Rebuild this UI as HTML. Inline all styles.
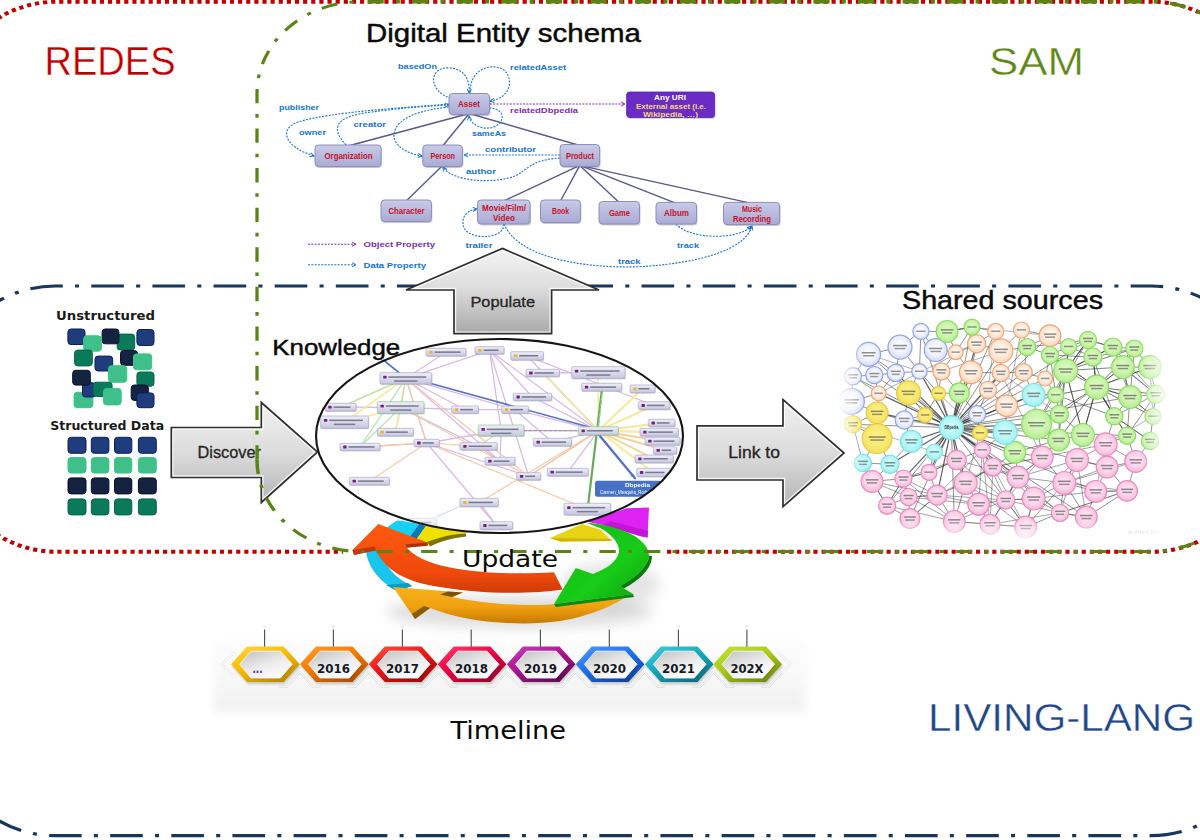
<!DOCTYPE html>
<html lang="en"><head><meta charset="utf-8"><title>REDES / SAM / LIVING-LANG overview</title>
<style>html,body{margin:0;padding:0;background:#ffffff;overflow:hidden}svg{display:block}</style></head>
<body>
<svg width="1200" height="840" viewBox="0 0 1200 840">
<rect width="1200" height="840" fill="#ffffff"/>
<g transform="scale(1.126 1)" fill="none">
<path d="M-40.85 133.40 V93.40 A91.7 91.7 0 0 1 50.85 1.7 H1021.98 A91.7 91.7 0 0 1 1113.68 93.40" stroke="#c00000" stroke-width="4" stroke-dasharray="3.7 3.52" stroke-dashoffset="2.10"/>
<path d="M-40.85 420.10 V460.10 A91.7 91.7 0 0 0 50.85 551.8 H1021.98 A91.7 91.7 0 0 0 1113.68 460.10" stroke="#c00000" stroke-width="4" stroke-dasharray="3.7 3.52" stroke-dashoffset="3.76"/>
<path d="M-42.63 417.60 V377.60 A91.6 91.6 0 0 1 48.97 286.0 H1022.08 A91.6 91.6 0 0 1 1113.68 377.60" stroke="#17375e" stroke-width="3.15" stroke-dasharray="29 10.85 3.6 10.85" stroke-dashoffset="1.38"/>
<path d="M-42.63 704.00 V744.00 A91.6 91.6 0 0 0 48.97 835.6 H1022.08 A91.6 91.6 0 0 0 1113.68 744.00" stroke="#17375e" stroke-width="3.1" stroke-dasharray="29 10.85 3.6 10.85" stroke-dashoffset="38.90"/>
</g>
<g id="labels">
<text x="44.5" y="75.0" font-family='"Liberation Sans", sans-serif' font-size="40.4" font-weight="normal" fill="#c00000" textLength="131.0" lengthAdjust="spacingAndGlyphs" stroke="#ffffff" stroke-width="0.4">REDES</text>
<text x="989.0" y="74.5" font-family='"Liberation Sans", sans-serif' font-size="39.2" font-weight="normal" fill="#5d8716" textLength="95.0" lengthAdjust="spacingAndGlyphs" stroke="#ffffff" stroke-width="0.4">SAM</text>
<text x="366.0" y="42.0" font-family='"Liberation Sans", sans-serif' font-size="25" font-weight="normal" fill="#0a0a0a" textLength="275.0" lengthAdjust="spacingAndGlyphs" stroke="#0a0a0a" stroke-width="0.45">Digital Entity schema</text>
<text x="902.0" y="309.0" font-family='"Liberation Sans", sans-serif' font-size="25" font-weight="normal" fill="#0a0a0a" textLength="201.0" lengthAdjust="spacingAndGlyphs" stroke="#0a0a0a" stroke-width="0.45">Shared sources</text>
<text x="272.3" y="355.0" font-family='"Liberation Sans", sans-serif' font-size="22.4" font-weight="normal" fill="#0a0a0a" textLength="127.9" lengthAdjust="spacingAndGlyphs" stroke="#0a0a0a" stroke-width="0.45">Knowledge</text>
<text x="928.0" y="730.5" font-family='"Liberation Sans", sans-serif' font-size="39.0" font-weight="normal" fill="#1f4788" textLength="267.0" lengthAdjust="spacingAndGlyphs" stroke="#ffffff" stroke-width="0.4">LIVING-LANG</text>
<text x="450.5" y="738.8" font-family='"DejaVu Sans", "Liberation Sans", sans-serif' font-size="24.7" font-weight="normal" fill="#0a0a0a" textLength="115.5" lengthAdjust="spacingAndGlyphs" >Timeline</text>
</g>
<g id="schema">
<defs>
<linearGradient id="ng" x1="0" y1="0" x2="0" y2="1"><stop offset="0" stop-color="#c9cbe8"/><stop offset="1" stop-color="#a9abd4"/></linearGradient>
<marker id="ab" viewBox="0 0 8 8" refX="7" refY="4" markerWidth="5" markerHeight="5" orient="auto"><path d="M1 1 L7 4 L1 7" fill="none" stroke="#1474cf" stroke-width="1.4"/></marker>
<marker id="ap" viewBox="0 0 8 8" refX="7" refY="4" markerWidth="5" markerHeight="5" orient="auto"><path d="M1 1 L7 4 L1 7" fill="none" stroke="#7e2cb6" stroke-width="1.4"/></marker>
</defs>
<g stroke="#58588e" stroke-width="1.4" fill="none">
<line x1="469.2" y1="113.5" x2="348.0" y2="146.0"/>
<line x1="469.2" y1="113.5" x2="442.6" y2="146.0"/>
<line x1="469.2" y1="113.5" x2="579.8" y2="145.5"/>
<line x1="442.6" y1="165.6" x2="406.2" y2="201.0"/>
<line x1="579.8" y1="165.4" x2="503.8" y2="201.0"/>
<line x1="579.8" y1="165.4" x2="560.5" y2="201.0"/>
<line x1="579.8" y1="165.4" x2="619.2" y2="202.5"/>
<line x1="579.8" y1="165.4" x2="676.2" y2="203.4"/>
<line x1="579.8" y1="165.4" x2="751.5" y2="203.4"/>
</g>
<g stroke="#1474cf" stroke-width="1.1" fill="none" stroke-dasharray="2 1.3">
<path d="M451 98 C428 92 428 66 450 68 C466 69 470 82 469 93" marker-end="url(#ab)"/>
<path d="M470 93 C470 70 488 64 500 68 C514 73 514 98 490 101" marker-end="url(#ab)"/>
<path d="M489 108 C505 108 506 122 494 127 C482 131 470 124 469 116" marker-end="url(#ab)"/>
<path d="M449 104 C400 108 330 112 298 122 C280 128 282 146 314 156" marker-end="url(#ab)"/>
<path d="M346 145 C330 128 335 116 372 112 C400 108 430 106 449 105" marker-end="url(#ab)"/>
<path d="M449 107 C420 110 396 118 394 134 C393 146 408 154 422 156" marker-end="url(#ab)"/>
<path d="M560 155 H464" marker-end="url(#ab)"/>
<path d="M560 158 C530 160 528 170 515 176 C495 184 452 182 443 167" marker-end="url(#ab)"/>
<path d="M504 224 C504 240 470 240 464 228 C460 216 468 210 477 209" marker-end="url(#ab)"/>
<path d="M676 224 C690 240 740 240 751 226" marker-end="url(#ab)"/>
<path d="M504 224 C520 262 600 270 650 266 C700 262 745 250 752 226" marker-end="url(#ab)"/>
</g>
<path d="M490 104 H625" stroke="#7e2cb6" stroke-width="1.1" fill="none" stroke-dasharray="2 1.3" marker-end="url(#ap)"/>
<path d="M308 244.2 H356" stroke="#7e2cb6" stroke-width="1.1" fill="none" stroke-dasharray="2 1.3" marker-end="url(#ap)"/>
<path d="M308 264.7 H356" stroke="#1474cf" stroke-width="1.1" fill="none" stroke-dasharray="2 1.3" marker-end="url(#ab)"/>
<rect x="450.0" y="95.0" width="40.5" height="21.0" rx="3.5" fill="#6a6a90" opacity="0.35"/>
<rect x="449.0" y="93.5" width="40.5" height="21.0" rx="3.5" fill="url(#ng)" stroke="#8c8ebc" stroke-width="1"/>
<rect x="316.0" y="146.5" width="66.0" height="21.6" rx="3.5" fill="#6a6a90" opacity="0.35"/>
<rect x="315.0" y="145.0" width="66.0" height="21.6" rx="3.5" fill="url(#ng)" stroke="#8c8ebc" stroke-width="1"/>
<rect x="423.8" y="146.5" width="39.6" height="21.6" rx="3.5" fill="#6a6a90" opacity="0.35"/>
<rect x="422.8" y="145.0" width="39.6" height="21.6" rx="3.5" fill="url(#ng)" stroke="#8c8ebc" stroke-width="1"/>
<rect x="561.0" y="146.0" width="39.6" height="21.9" rx="3.5" fill="#6a6a90" opacity="0.35"/>
<rect x="560.0" y="144.5" width="39.6" height="21.9" rx="3.5" fill="url(#ng)" stroke="#8c8ebc" stroke-width="1"/>
<rect x="382.0" y="201.5" width="50.4" height="21.6" rx="3.5" fill="#6a6a90" opacity="0.35"/>
<rect x="381.0" y="200.0" width="50.4" height="21.6" rx="3.5" fill="url(#ng)" stroke="#8c8ebc" stroke-width="1"/>
<rect x="478.5" y="201.5" width="52.5" height="24.0" rx="3.5" fill="#6a6a90" opacity="0.35"/>
<rect x="477.5" y="200.0" width="52.5" height="24.0" rx="3.5" fill="url(#ng)" stroke="#8c8ebc" stroke-width="1"/>
<rect x="541.5" y="201.5" width="39.9" height="22.5" rx="3.5" fill="#6a6a90" opacity="0.35"/>
<rect x="540.5" y="200.0" width="39.9" height="22.5" rx="3.5" fill="url(#ng)" stroke="#8c8ebc" stroke-width="1"/>
<rect x="600.0" y="203.0" width="40.5" height="22.5" rx="3.5" fill="#6a6a90" opacity="0.35"/>
<rect x="599.0" y="201.5" width="40.5" height="22.5" rx="3.5" fill="url(#ng)" stroke="#8c8ebc" stroke-width="1"/>
<rect x="657.0" y="203.9" width="40.5" height="21.6" rx="3.5" fill="#6a6a90" opacity="0.35"/>
<rect x="656.0" y="202.4" width="40.5" height="21.6" rx="3.5" fill="url(#ng)" stroke="#8c8ebc" stroke-width="1"/>
<rect x="724.5" y="203.9" width="56.1" height="22.2" rx="3.5" fill="#6a6a90" opacity="0.35"/>
<rect x="723.5" y="202.4" width="56.1" height="22.2" rx="3.5" fill="url(#ng)" stroke="#8c8ebc" stroke-width="1"/>
<text x="458.0" y="107.0" font-family='"Liberation Sans", sans-serif' font-size="8.2" font-weight="bold" fill="#c8102a" textLength="22.0" lengthAdjust="spacingAndGlyphs" >Asset</text>
<text x="324.5" y="158.8" font-family='"Liberation Sans", sans-serif' font-size="8.2" font-weight="bold" fill="#c8102a" textLength="48.0" lengthAdjust="spacingAndGlyphs" >Organization</text>
<text x="430.5" y="158.8" font-family='"Liberation Sans", sans-serif' font-size="8.2" font-weight="bold" fill="#c8102a" textLength="24.5" lengthAdjust="spacingAndGlyphs" >Person</text>
<text x="566.0" y="158.5" font-family='"Liberation Sans", sans-serif' font-size="8.2" font-weight="bold" fill="#c8102a" textLength="28.0" lengthAdjust="spacingAndGlyphs" >Product</text>
<text x="388.5" y="213.8" font-family='"Liberation Sans", sans-serif' font-size="8.2" font-weight="bold" fill="#c8102a" textLength="36.0" lengthAdjust="spacingAndGlyphs" >Character</text>
<text x="482.0" y="210.5" font-family='"Liberation Sans", sans-serif' font-size="8.2" font-weight="bold" fill="#c8102a" textLength="44.0" lengthAdjust="spacingAndGlyphs" >Movie/Film/</text>
<text x="493.0" y="220.5" font-family='"Liberation Sans", sans-serif' font-size="8.2" font-weight="bold" fill="#c8102a" textLength="22.0" lengthAdjust="spacingAndGlyphs" >Video</text>
<text x="552.0" y="214.3" font-family='"Liberation Sans", sans-serif' font-size="8.2" font-weight="bold" fill="#c8102a" textLength="17.0" lengthAdjust="spacingAndGlyphs" >Book</text>
<text x="609.0" y="215.8" font-family='"Liberation Sans", sans-serif' font-size="8.2" font-weight="bold" fill="#c8102a" textLength="21.0" lengthAdjust="spacingAndGlyphs" >Game</text>
<text x="664.0" y="216.3" font-family='"Liberation Sans", sans-serif' font-size="8.2" font-weight="bold" fill="#c8102a" textLength="25.0" lengthAdjust="spacingAndGlyphs" >Album</text>
<text x="742.0" y="211.8" font-family='"Liberation Sans", sans-serif' font-size="8.2" font-weight="bold" fill="#c8102a" textLength="20.0" lengthAdjust="spacingAndGlyphs" >Music</text>
<text x="733.0" y="221.5" font-family='"Liberation Sans", sans-serif' font-size="8.2" font-weight="bold" fill="#c8102a" textLength="38.0" lengthAdjust="spacingAndGlyphs" >Recording</text>
<rect x="627.6" y="93.5" width="88" height="25.5" rx="3" fill="#7a7a7a" opacity="0.3"/>
<rect x="626.6" y="92" width="88" height="25.5" rx="3" fill="#6a2cc4" stroke="#5a20b0" stroke-width="0.8"/>
<text x="654.0" y="100.3" font-family='"Liberation Sans", sans-serif' font-size="7.6" font-weight="bold" fill="#ffffff" textLength="32.0" lengthAdjust="spacingAndGlyphs" >Any URI</text>
<text x="636.0" y="108.8" font-family='"Liberation Sans", sans-serif' font-size="7.6" font-weight="bold" fill="#f7d774" textLength="70.0" lengthAdjust="spacingAndGlyphs" >External asset (i.e.</text>
<text x="643.0" y="117.0" font-family='"Liberation Sans", sans-serif' font-size="7.6" font-weight="bold" fill="#f7d774" textLength="55.0" lengthAdjust="spacingAndGlyphs" >Wikipedia, …)</text>
<text x="398.0" y="69.3" font-family='"Liberation Sans", sans-serif' font-size="7.6" font-weight="bold" fill="#1474cf" textLength="39.0" lengthAdjust="spacingAndGlyphs" >basedOn</text>
<text x="510.0" y="70.3" font-family='"Liberation Sans", sans-serif' font-size="7.6" font-weight="bold" fill="#1474cf" textLength="56.0" lengthAdjust="spacingAndGlyphs" >relatedAsset</text>
<text x="279.0" y="109.5" font-family='"Liberation Sans", sans-serif' font-size="7.6" font-weight="bold" fill="#1474cf" textLength="40.0" lengthAdjust="spacingAndGlyphs" >publisher</text>
<text x="299.0" y="134.8" font-family='"Liberation Sans", sans-serif' font-size="7.6" font-weight="bold" fill="#1474cf" textLength="27.0" lengthAdjust="spacingAndGlyphs" >owner</text>
<text x="353.5" y="127.3" font-family='"Liberation Sans", sans-serif' font-size="7.6" font-weight="bold" fill="#1474cf" textLength="32.5" lengthAdjust="spacingAndGlyphs" >creator</text>
<text x="472.0" y="135.5" font-family='"Liberation Sans", sans-serif' font-size="7.6" font-weight="bold" fill="#1474cf" textLength="34.0" lengthAdjust="spacingAndGlyphs" >sameAs</text>
<text x="485.0" y="151.8" font-family='"Liberation Sans", sans-serif' font-size="7.6" font-weight="bold" fill="#1474cf" textLength="51.0" lengthAdjust="spacingAndGlyphs" >contributor</text>
<text x="466.0" y="173.5" font-family='"Liberation Sans", sans-serif' font-size="7.6" font-weight="bold" fill="#1474cf" textLength="30.0" lengthAdjust="spacingAndGlyphs" >author</text>
<text x="465.5" y="247.8" font-family='"Liberation Sans", sans-serif' font-size="7.6" font-weight="bold" fill="#1474cf" textLength="27.0" lengthAdjust="spacingAndGlyphs" >trailer</text>
<text x="677.0" y="247.8" font-family='"Liberation Sans", sans-serif' font-size="7.6" font-weight="bold" fill="#1474cf" textLength="22.0" lengthAdjust="spacingAndGlyphs" >track</text>
<text x="618.0" y="263.8" font-family='"Liberation Sans", sans-serif' font-size="7.6" font-weight="bold" fill="#1474cf" textLength="22.5" lengthAdjust="spacingAndGlyphs" >track</text>
<text x="510.0" y="112.8" font-family='"Liberation Sans", sans-serif' font-size="7.6" font-weight="bold" fill="#7e2cb6" textLength="68.0" lengthAdjust="spacingAndGlyphs" >relatedDbpedia</text>
<text x="363.5" y="246.8" font-family='"Liberation Sans", sans-serif' font-size="7.6" font-weight="bold" fill="#7e2cb6" textLength="71.5" lengthAdjust="spacingAndGlyphs" >Object Property</text>
<text x="363.5" y="267.8" font-family='"Liberation Sans", sans-serif' font-size="7.6" font-weight="bold" fill="#1474cf" textLength="62.5" lengthAdjust="spacingAndGlyphs" >Data Property</text>
</g>
<g id="data">
<rect x="67.9" y="329.0" width="17.1" height="15.5" rx="3.1" fill="#1f3d7c" stroke="#0c1f62" stroke-width="1"/>
<rect x="136.9" y="329.5" width="17.1" height="16.0" rx="3.1" fill="#1f3d7c" stroke="#0c1f62" stroke-width="1"/>
<rect x="117.1" y="334.1" width="17.6" height="15.9" rx="3.1" fill="#0a7a5a" stroke="#06664a" stroke-width="1"/>
<rect x="102.1" y="329.0" width="16.8" height="14.8" rx="3.1" fill="#14233f" stroke="#0a1030" stroke-width="1"/>
<rect x="83.7" y="335.8" width="17.7" height="15.4" rx="3.1" fill="#3fc08a" stroke="#33c886" stroke-width="1"/>
<rect x="120.5" y="350.5" width="17.0" height="14.8" rx="3.1" fill="#14233f" stroke="#0a1030" stroke-width="1"/>
<rect x="74.6" y="350.1" width="17.7" height="15.8" rx="3.1" fill="#0a7a5a" stroke="#06664a" stroke-width="1"/>
<rect x="95.0" y="356.1" width="17.7" height="14.9" rx="3.1" fill="#1f3d7c" stroke="#0c1f62" stroke-width="1"/>
<rect x="133.5" y="353.9" width="18.2" height="15.9" rx="3.1" fill="#3fc08a" stroke="#33c886" stroke-width="1"/>
<rect x="108.5" y="365.7" width="18.3" height="16.6" rx="3.1" fill="#3fc08a" stroke="#33c886" stroke-width="1"/>
<rect x="136.9" y="372.0" width="17.1" height="14.2" rx="3.1" fill="#0a7a5a" stroke="#06664a" stroke-width="1"/>
<rect x="74.1" y="392.3" width="18.8" height="15.4" rx="3.1" fill="#3fc08a" stroke="#33c886" stroke-width="1"/>
<rect x="82.5" y="382.7" width="13.0" height="14.3" rx="3.1" fill="#1f3d7c" stroke="#0c1f62" stroke-width="1"/>
<rect x="72.7" y="370.3" width="17.6" height="14.8" rx="3.1" fill="#14233f" stroke="#0a1030" stroke-width="1"/>
<rect x="93.3" y="382.2" width="18.8" height="14.3" rx="3.1" fill="#0a7a5a" stroke="#06664a" stroke-width="1"/>
<rect x="103.5" y="388.4" width="17.7" height="16.5" rx="3.1" fill="#3fc08a" stroke="#33c886" stroke-width="1"/>
<rect x="131.2" y="385.0" width="17.1" height="15.4" rx="3.1" fill="#14233f" stroke="#0a1030" stroke-width="1"/>
<rect x="136.9" y="392.9" width="17.1" height="14.8" rx="3.1" fill="#1f3d7c" stroke="#0c1f62" stroke-width="1"/>
<rect x="68.0" y="437.3" width="18.0" height="16.0" rx="3.1" fill="#1f3d7c" stroke="#0c1f62" stroke-width="1"/>
<rect x="91.3" y="437.3" width="17.6" height="16.0" rx="3.1" fill="#1f3d7c" stroke="#0c1f62" stroke-width="1"/>
<rect x="114.5" y="437.3" width="17.3" height="16.0" rx="3.1" fill="#1f3d7c" stroke="#0c1f62" stroke-width="1"/>
<rect x="138.4" y="437.3" width="17.9" height="16.0" rx="3.1" fill="#1f3d7c" stroke="#0c1f62" stroke-width="1"/>
<rect x="68.0" y="457.6" width="18.0" height="15.4" rx="3.1" fill="#3fc08a" stroke="#33c886" stroke-width="1"/>
<rect x="91.3" y="457.6" width="17.6" height="15.4" rx="3.1" fill="#3fc08a" stroke="#33c886" stroke-width="1"/>
<rect x="114.5" y="457.6" width="17.3" height="15.4" rx="3.1" fill="#3fc08a" stroke="#33c886" stroke-width="1"/>
<rect x="138.4" y="457.6" width="17.9" height="15.4" rx="3.1" fill="#3fc08a" stroke="#33c886" stroke-width="1"/>
<rect x="68.0" y="477.9" width="18.0" height="16.0" rx="3.1" fill="#14233f" stroke="#0a1030" stroke-width="1"/>
<rect x="91.3" y="477.9" width="17.6" height="16.0" rx="3.1" fill="#14233f" stroke="#0a1030" stroke-width="1"/>
<rect x="114.5" y="477.9" width="17.3" height="16.0" rx="3.1" fill="#14233f" stroke="#0a1030" stroke-width="1"/>
<rect x="138.4" y="477.9" width="17.9" height="16.0" rx="3.1" fill="#14233f" stroke="#0a1030" stroke-width="1"/>
<rect x="68.0" y="498.9" width="18.0" height="16.0" rx="3.1" fill="#0a7a5a" stroke="#06664a" stroke-width="1"/>
<rect x="91.3" y="498.9" width="17.6" height="16.0" rx="3.1" fill="#0a7a5a" stroke="#06664a" stroke-width="1"/>
<rect x="114.5" y="498.9" width="17.3" height="16.0" rx="3.1" fill="#0a7a5a" stroke="#06664a" stroke-width="1"/>
<rect x="138.4" y="498.9" width="17.9" height="16.0" rx="3.1" fill="#0a7a5a" stroke="#06664a" stroke-width="1"/>
<text x="56.0" y="320.0" font-family='"DejaVu Sans", "Liberation Sans", sans-serif' font-size="12.6" font-weight="bold" fill="#1a1a1a" textLength="99.0" lengthAdjust="spacingAndGlyphs" >Unstructured</text>
<text x="50.2" y="429.6" font-family='"DejaVu Sans", "Liberation Sans", sans-serif' font-size="12.4" font-weight="bold" fill="#1a1a1a" textLength="114.0" lengthAdjust="spacingAndGlyphs" >Structured Data</text>
</g>
<g id="cloud" filter="url(#soft)">
<defs><filter id="soft" x="-2%" y="-2%" width="104%" height="104%"><feGaussianBlur stdDeviation="0.55"/></filter><radialGradient id="cgb" cx="0.5" cy="0.45" r="0.6"><stop offset="0" stop-color="#ffffff"/><stop offset="0.55" stop-color="#eef1fd"/><stop offset="1" stop-color="#ccd6f7"/></radialGradient><radialGradient id="cgo" cx="0.5" cy="0.45" r="0.6"><stop offset="0" stop-color="#fffaf5"/><stop offset="0.55" stop-color="#fde9d8"/><stop offset="1" stop-color="#f9cfae"/></radialGradient><radialGradient id="cgg" cx="0.5" cy="0.45" r="0.6"><stop offset="0" stop-color="#e0f9cc"/><stop offset="0.55" stop-color="#ccf4ac"/><stop offset="1" stop-color="#aee98a"/></radialGradient><radialGradient id="cgy" cx="0.5" cy="0.45" r="0.6"><stop offset="0" stop-color="#fbf090"/><stop offset="0.55" stop-color="#f9e974"/><stop offset="1" stop-color="#f2de54"/></radialGradient><radialGradient id="cgc" cx="0.5" cy="0.45" r="0.6"><stop offset="0" stop-color="#d4fbfb"/><stop offset="0.55" stop-color="#b8f6f6"/><stop offset="1" stop-color="#98eeee"/></radialGradient><radialGradient id="cgp" cx="0.5" cy="0.45" r="0.6"><stop offset="0" stop-color="#fee8f4"/><stop offset="0.55" stop-color="#fcd2e8"/><stop offset="1" stop-color="#f7b0d6"/></radialGradient></defs>
<defs><linearGradient id="cfr" x1="0" y1="0" x2="1" y2="0"><stop offset="0" stop-color="#fff" stop-opacity="0"/><stop offset="1" stop-color="#fff" stop-opacity="1"/></linearGradient>
<linearGradient id="cfb" x1="0" y1="0" x2="0" y2="1"><stop offset="0" stop-color="#fff" stop-opacity="0"/><stop offset="1" stop-color="#fff" stop-opacity="1"/></linearGradient>
<linearGradient id="cfl" x1="1" y1="0" x2="0" y2="0"><stop offset="0" stop-color="#fff" stop-opacity="0"/><stop offset="1" stop-color="#fff" stop-opacity="1"/></linearGradient></defs>
<g stroke="#3a3a3a" fill="none">
<line x1="868.6" y1="354.3" x2="951.4" y2="427.7" stroke-width="0.7" stroke-opacity="0.8"/>
<line x1="868.6" y1="354.3" x2="874.3" y2="375.1" stroke-width="0.7" stroke-opacity="0.8"/>
<line x1="868.6" y1="354.3" x2="852.9" y2="376.3" stroke-width="0.7" stroke-opacity="0.8"/>
<line x1="868.6" y1="354.3" x2="900.0" y2="347.1" stroke-width="0.7" stroke-opacity="0.8"/>
<line x1="868.6" y1="354.3" x2="895.7" y2="372.9" stroke-width="0.7" stroke-opacity="0.8"/>
<line x1="868.6" y1="354.3" x2="919.4" y2="371.4" stroke-width="0.5" stroke-opacity="0.8"/>
<line x1="900.0" y1="347.1" x2="895.7" y2="372.9" stroke-width="0.7" stroke-opacity="0.8"/>
<line x1="900.0" y1="347.1" x2="920.9" y2="331.4" stroke-width="0.7" stroke-opacity="0.8"/>
<line x1="900.0" y1="347.1" x2="919.4" y2="371.4" stroke-width="0.7" stroke-opacity="0.8"/>
<line x1="920.9" y1="331.4" x2="951.4" y2="427.7" stroke-width="0.7" stroke-opacity="0.8"/>
<line x1="920.9" y1="331.4" x2="947.1" y2="331.4" stroke-width="0.7" stroke-opacity="0.8"/>
<line x1="920.9" y1="331.4" x2="919.4" y2="371.4" stroke-width="0.7" stroke-opacity="0.8"/>
<line x1="935.7" y1="350.0" x2="955.7" y2="352.3" stroke-width="0.7" stroke-opacity="0.8"/>
<line x1="935.7" y1="350.0" x2="947.1" y2="331.4" stroke-width="0.7" stroke-opacity="0.8"/>
<line x1="935.7" y1="350.0" x2="920.9" y2="331.4" stroke-width="0.7" stroke-opacity="0.8"/>
<line x1="852.9" y1="376.3" x2="951.4" y2="427.7" stroke-width="0.7" stroke-opacity="0.8"/>
<line x1="852.9" y1="376.3" x2="874.3" y2="375.1" stroke-width="0.7" stroke-opacity="0.8"/>
<line x1="852.9" y1="376.3" x2="851.4" y2="401.4" stroke-width="0.7" stroke-opacity="0.8"/>
<line x1="852.9" y1="376.3" x2="878.6" y2="393.4" stroke-width="0.7" stroke-opacity="0.8"/>
<line x1="874.3" y1="375.1" x2="951.4" y2="427.7" stroke-width="0.7" stroke-opacity="0.8"/>
<line x1="874.3" y1="375.1" x2="878.6" y2="393.4" stroke-width="0.7" stroke-opacity="0.8"/>
<line x1="874.3" y1="375.1" x2="895.7" y2="372.9" stroke-width="0.7" stroke-opacity="0.8"/>
<line x1="895.7" y1="372.9" x2="951.4" y2="427.7" stroke-width="1.2" stroke-opacity="0.8"/>
<line x1="895.7" y1="372.9" x2="919.4" y2="371.4" stroke-width="0.7" stroke-opacity="0.8"/>
<line x1="895.7" y1="372.9" x2="908.6" y2="392.9" stroke-width="0.7" stroke-opacity="0.8"/>
<line x1="919.4" y1="371.4" x2="951.4" y2="427.7" stroke-width="1.2" stroke-opacity="0.8"/>
<line x1="919.4" y1="371.4" x2="941.4" y2="371.4" stroke-width="0.7" stroke-opacity="0.8"/>
<line x1="919.4" y1="371.4" x2="908.6" y2="392.9" stroke-width="0.7" stroke-opacity="0.8"/>
<line x1="851.4" y1="401.4" x2="852.9" y2="424.3" stroke-width="0.7" stroke-opacity="0.8"/>
<line x1="851.4" y1="401.4" x2="877.1" y2="412.9" stroke-width="0.7" stroke-opacity="0.8"/>
<line x1="851.4" y1="401.4" x2="878.6" y2="393.4" stroke-width="0.7" stroke-opacity="0.8"/>
<line x1="904.3" y1="420.0" x2="925.1" y2="415.1" stroke-width="0.7" stroke-opacity="0.8"/>
<line x1="904.3" y1="420.0" x2="911.4" y2="441.4" stroke-width="0.7" stroke-opacity="0.8"/>
<line x1="904.3" y1="420.0" x2="877.1" y2="412.9" stroke-width="0.7" stroke-opacity="0.8"/>
<line x1="977.1" y1="414.3" x2="951.4" y2="427.7" stroke-width="1.2" stroke-opacity="0.8"/>
<line x1="977.1" y1="414.3" x2="980.0" y2="432.9" stroke-width="0.7" stroke-opacity="0.8"/>
<line x1="977.1" y1="414.3" x2="988.0" y2="390.0" stroke-width="0.7" stroke-opacity="0.8"/>
<line x1="977.1" y1="414.3" x2="959.4" y2="392.9" stroke-width="0.7" stroke-opacity="0.8"/>
<line x1="977.1" y1="414.3" x2="951.4" y2="427.7" stroke-width="0.7" stroke-opacity="0.8"/>
<line x1="955.7" y1="352.3" x2="947.1" y2="331.4" stroke-width="0.7" stroke-opacity="0.8"/>
<line x1="955.7" y1="352.3" x2="976.6" y2="343.7" stroke-width="0.7" stroke-opacity="0.8"/>
<line x1="955.7" y1="352.3" x2="941.4" y2="371.4" stroke-width="0.7" stroke-opacity="0.8"/>
<line x1="976.6" y1="343.7" x2="951.4" y2="427.7" stroke-width="1.2" stroke-opacity="0.8"/>
<line x1="976.6" y1="343.7" x2="1000.9" y2="350.9" stroke-width="0.7" stroke-opacity="0.8"/>
<line x1="995.7" y1="331.4" x2="951.4" y2="427.7" stroke-width="0.7" stroke-opacity="0.8"/>
<line x1="995.7" y1="331.4" x2="1000.9" y2="350.9" stroke-width="0.7" stroke-opacity="0.8"/>
<line x1="995.7" y1="331.4" x2="976.6" y2="343.7" stroke-width="0.7" stroke-opacity="0.8"/>
<line x1="1021.4" y1="330.0" x2="1027.1" y2="347.1" stroke-width="0.7" stroke-opacity="0.8"/>
<line x1="1021.4" y1="330.0" x2="1050.0" y2="335.7" stroke-width="0.7" stroke-opacity="0.8"/>
<line x1="1021.4" y1="330.0" x2="1000.9" y2="350.9" stroke-width="0.7" stroke-opacity="0.8"/>
<line x1="1050.0" y1="335.7" x2="951.4" y2="427.7" stroke-width="0.7" stroke-opacity="0.8"/>
<line x1="1050.0" y1="335.7" x2="1050.0" y2="355.1" stroke-width="0.7" stroke-opacity="0.8"/>
<line x1="1050.0" y1="335.7" x2="1068.6" y2="346.6" stroke-width="0.7" stroke-opacity="0.8"/>
<line x1="1050.0" y1="335.7" x2="1027.1" y2="347.1" stroke-width="0.7" stroke-opacity="0.8"/>
<line x1="1000.9" y1="350.9" x2="951.4" y2="427.7" stroke-width="0.7" stroke-opacity="0.8"/>
<line x1="1000.9" y1="350.9" x2="1000.9" y2="372.9" stroke-width="0.7" stroke-opacity="0.8"/>
<line x1="1000.9" y1="350.9" x2="1027.1" y2="347.1" stroke-width="0.7" stroke-opacity="0.8"/>
<line x1="1000.9" y1="350.9" x2="941.4" y2="371.4" stroke-width="0.5" stroke-opacity="0.8"/>
<line x1="941.4" y1="371.4" x2="938.6" y2="393.4" stroke-width="0.7" stroke-opacity="0.8"/>
<line x1="970.9" y1="372.3" x2="951.4" y2="427.7" stroke-width="1.2" stroke-opacity="0.8"/>
<line x1="970.9" y1="372.3" x2="959.4" y2="392.9" stroke-width="0.7" stroke-opacity="0.8"/>
<line x1="970.9" y1="372.3" x2="988.0" y2="390.0" stroke-width="0.7" stroke-opacity="0.8"/>
<line x1="970.9" y1="372.3" x2="955.7" y2="352.3" stroke-width="0.7" stroke-opacity="0.8"/>
<line x1="970.9" y1="372.3" x2="976.6" y2="343.7" stroke-width="0.7" stroke-opacity="0.8"/>
<line x1="1000.9" y1="372.9" x2="951.4" y2="427.7" stroke-width="1.2" stroke-opacity="0.8"/>
<line x1="1000.9" y1="372.9" x2="1023.7" y2="372.3" stroke-width="0.7" stroke-opacity="0.8"/>
<line x1="1000.9" y1="372.9" x2="970.9" y2="372.3" stroke-width="0.7" stroke-opacity="0.8"/>
<line x1="1000.9" y1="372.9" x2="1042.3" y2="457.1" stroke-width="0.5" stroke-opacity="0.8"/>
<line x1="1023.7" y1="372.3" x2="951.4" y2="427.7" stroke-width="0.7" stroke-opacity="0.8"/>
<line x1="1023.7" y1="372.3" x2="1045.1" y2="378.6" stroke-width="0.7" stroke-opacity="0.8"/>
<line x1="1023.7" y1="372.3" x2="1027.1" y2="347.1" stroke-width="0.7" stroke-opacity="0.8"/>
<line x1="1045.1" y1="378.6" x2="951.4" y2="427.7" stroke-width="0.7" stroke-opacity="0.8"/>
<line x1="1045.1" y1="378.6" x2="1055.7" y2="394.9" stroke-width="0.7" stroke-opacity="0.8"/>
<line x1="1045.1" y1="378.6" x2="1033.7" y2="394.9" stroke-width="0.7" stroke-opacity="0.8"/>
<line x1="988.0" y1="390.0" x2="1000.9" y2="372.9" stroke-width="0.7" stroke-opacity="0.8"/>
<line x1="988.0" y1="390.0" x2="1006.6" y2="405.7" stroke-width="0.7" stroke-opacity="0.8"/>
<line x1="988.0" y1="390.0" x2="995.7" y2="331.4" stroke-width="0.5" stroke-opacity="0.8"/>
<line x1="1006.6" y1="405.7" x2="951.4" y2="427.7" stroke-width="1.2" stroke-opacity="0.8"/>
<line x1="1006.6" y1="405.7" x2="1005.1" y2="432.3" stroke-width="0.7" stroke-opacity="0.8"/>
<line x1="1006.6" y1="405.7" x2="1033.7" y2="394.9" stroke-width="0.7" stroke-opacity="0.8"/>
<line x1="1006.6" y1="405.7" x2="1021.4" y2="330.0" stroke-width="0.5" stroke-opacity="0.8"/>
<line x1="878.6" y1="393.4" x2="951.4" y2="427.7" stroke-width="1.2" stroke-opacity="0.8"/>
<line x1="878.6" y1="393.4" x2="877.1" y2="412.9" stroke-width="0.7" stroke-opacity="0.8"/>
<line x1="878.6" y1="393.4" x2="895.7" y2="372.9" stroke-width="0.7" stroke-opacity="0.8"/>
<line x1="878.6" y1="393.4" x2="976.6" y2="343.7" stroke-width="0.5" stroke-opacity="0.8"/>
<line x1="947.1" y1="331.4" x2="972.0" y2="327.1" stroke-width="0.7" stroke-opacity="0.8"/>
<line x1="947.1" y1="331.4" x2="972.0" y2="327.1" stroke-width="0.5" stroke-opacity="0.8"/>
<line x1="972.0" y1="327.1" x2="951.4" y2="427.7" stroke-width="0.7" stroke-opacity="0.8"/>
<line x1="972.0" y1="327.1" x2="976.6" y2="343.7" stroke-width="0.7" stroke-opacity="0.8"/>
<line x1="972.0" y1="327.1" x2="995.7" y2="331.4" stroke-width="0.7" stroke-opacity="0.8"/>
<line x1="972.0" y1="327.1" x2="955.7" y2="352.3" stroke-width="0.7" stroke-opacity="0.8"/>
<line x1="972.0" y1="327.1" x2="1050.0" y2="335.7" stroke-width="0.5" stroke-opacity="0.8"/>
<line x1="1027.1" y1="347.1" x2="951.4" y2="427.7" stroke-width="0.7" stroke-opacity="0.8"/>
<line x1="1027.1" y1="347.1" x2="1050.0" y2="355.1" stroke-width="0.7" stroke-opacity="0.8"/>
<line x1="1050.0" y1="355.1" x2="1068.6" y2="346.6" stroke-width="0.7" stroke-opacity="0.8"/>
<line x1="1050.0" y1="355.1" x2="1065.7" y2="370.6" stroke-width="0.7" stroke-opacity="0.8"/>
<line x1="1050.0" y1="355.1" x2="1045.1" y2="378.6" stroke-width="0.7" stroke-opacity="0.8"/>
<line x1="1068.6" y1="346.6" x2="1088.0" y2="340.0" stroke-width="0.7" stroke-opacity="0.8"/>
<line x1="1068.6" y1="346.6" x2="1065.7" y2="370.6" stroke-width="0.7" stroke-opacity="0.8"/>
<line x1="1088.0" y1="340.0" x2="951.4" y2="427.7" stroke-width="0.7" stroke-opacity="0.8"/>
<line x1="1088.0" y1="340.0" x2="1092.9" y2="357.1" stroke-width="0.7" stroke-opacity="0.8"/>
<line x1="1088.0" y1="340.0" x2="1065.7" y2="370.6" stroke-width="0.7" stroke-opacity="0.8"/>
<line x1="1112.9" y1="347.1" x2="1134.3" y2="348.6" stroke-width="0.7" stroke-opacity="0.8"/>
<line x1="1112.9" y1="347.1" x2="1092.9" y2="357.1" stroke-width="0.7" stroke-opacity="0.8"/>
<line x1="1112.9" y1="347.1" x2="1122.9" y2="367.1" stroke-width="0.7" stroke-opacity="0.8"/>
<line x1="1112.9" y1="347.1" x2="1088.0" y2="340.0" stroke-width="0.7" stroke-opacity="0.8"/>
<line x1="1134.3" y1="348.6" x2="1122.9" y2="367.1" stroke-width="0.7" stroke-opacity="0.8"/>
<line x1="1134.3" y1="348.6" x2="1150.0" y2="367.1" stroke-width="0.7" stroke-opacity="0.8"/>
<line x1="1134.3" y1="348.6" x2="1092.9" y2="357.1" stroke-width="0.7" stroke-opacity="0.8"/>
<line x1="1092.9" y1="357.1" x2="1068.6" y2="346.6" stroke-width="0.7" stroke-opacity="0.8"/>
<line x1="1092.9" y1="357.1" x2="1096.6" y2="387.1" stroke-width="0.7" stroke-opacity="0.8"/>
<line x1="1122.9" y1="367.1" x2="1150.0" y2="367.1" stroke-width="0.7" stroke-opacity="0.8"/>
<line x1="1122.9" y1="367.1" x2="1130.0" y2="397.1" stroke-width="0.7" stroke-opacity="0.8"/>
<line x1="1150.0" y1="367.1" x2="1155.7" y2="394.3" stroke-width="0.7" stroke-opacity="0.8"/>
<line x1="1096.6" y1="387.1" x2="1122.9" y2="367.1" stroke-width="0.7" stroke-opacity="0.8"/>
<line x1="1096.6" y1="387.1" x2="1114.3" y2="416.3" stroke-width="0.7" stroke-opacity="0.8"/>
<line x1="1096.6" y1="387.1" x2="1130.0" y2="397.1" stroke-width="0.7" stroke-opacity="0.8"/>
<line x1="1055.7" y1="394.9" x2="951.4" y2="427.7" stroke-width="0.7" stroke-opacity="0.8"/>
<line x1="1055.7" y1="394.9" x2="1033.7" y2="394.9" stroke-width="0.7" stroke-opacity="0.8"/>
<line x1="1055.7" y1="394.9" x2="1065.7" y2="370.6" stroke-width="0.7" stroke-opacity="0.8"/>
<line x1="1130.0" y1="397.1" x2="951.4" y2="427.7" stroke-width="0.7" stroke-opacity="0.8"/>
<line x1="1130.0" y1="397.1" x2="1114.3" y2="416.3" stroke-width="0.7" stroke-opacity="0.8"/>
<line x1="1130.0" y1="397.1" x2="1152.9" y2="416.3" stroke-width="0.7" stroke-opacity="0.8"/>
<line x1="1155.7" y1="394.3" x2="1152.9" y2="416.3" stroke-width="0.7" stroke-opacity="0.8"/>
<line x1="1155.7" y1="394.3" x2="1130.0" y2="397.1" stroke-width="0.7" stroke-opacity="0.8"/>
<line x1="1155.7" y1="394.3" x2="1122.9" y2="367.1" stroke-width="0.7" stroke-opacity="0.8"/>
<line x1="1059.4" y1="414.3" x2="951.4" y2="427.7" stroke-width="0.7" stroke-opacity="0.8"/>
<line x1="1059.4" y1="414.3" x2="1055.7" y2="394.9" stroke-width="0.7" stroke-opacity="0.8"/>
<line x1="1059.4" y1="414.3" x2="1058.6" y2="440.0" stroke-width="0.7" stroke-opacity="0.8"/>
<line x1="1059.4" y1="414.3" x2="1082.9" y2="434.9" stroke-width="0.7" stroke-opacity="0.8"/>
<line x1="1059.4" y1="414.3" x2="1000.9" y2="372.9" stroke-width="0.5" stroke-opacity="0.8"/>
<line x1="1114.3" y1="416.3" x2="1127.1" y2="435.7" stroke-width="0.7" stroke-opacity="0.8"/>
<line x1="1114.3" y1="416.3" x2="1105.7" y2="444.3" stroke-width="0.7" stroke-opacity="0.8"/>
<line x1="1152.9" y1="416.3" x2="1150.0" y2="440.9" stroke-width="0.7" stroke-opacity="0.8"/>
<line x1="1152.9" y1="416.3" x2="1105.7" y2="444.3" stroke-width="0.5" stroke-opacity="0.8"/>
<line x1="1036.6" y1="424.3" x2="951.4" y2="427.7" stroke-width="1.2" stroke-opacity="0.8"/>
<line x1="1036.6" y1="424.3" x2="1059.4" y2="414.3" stroke-width="0.7" stroke-opacity="0.8"/>
<line x1="1036.6" y1="424.3" x2="1033.7" y2="394.9" stroke-width="0.7" stroke-opacity="0.8"/>
<line x1="1036.6" y1="424.3" x2="1005.1" y2="432.3" stroke-width="0.7" stroke-opacity="0.8"/>
<line x1="1082.9" y1="434.9" x2="1077.1" y2="460.0" stroke-width="0.7" stroke-opacity="0.8"/>
<line x1="1082.9" y1="434.9" x2="1096.6" y2="387.1" stroke-width="0.5" stroke-opacity="0.8"/>
<line x1="1058.6" y1="440.0" x2="951.4" y2="427.7" stroke-width="0.7" stroke-opacity="0.8"/>
<line x1="1058.6" y1="440.0" x2="1042.3" y2="457.1" stroke-width="0.7" stroke-opacity="0.8"/>
<line x1="1058.6" y1="440.0" x2="1082.9" y2="434.9" stroke-width="0.7" stroke-opacity="0.8"/>
<line x1="1058.6" y1="440.0" x2="1036.6" y2="424.3" stroke-width="0.7" stroke-opacity="0.8"/>
<line x1="1127.1" y1="435.7" x2="951.4" y2="427.7" stroke-width="0.7" stroke-opacity="0.8"/>
<line x1="1127.1" y1="435.7" x2="1105.7" y2="444.3" stroke-width="0.7" stroke-opacity="0.8"/>
<line x1="1127.1" y1="435.7" x2="1135.7" y2="461.4" stroke-width="0.7" stroke-opacity="0.8"/>
<line x1="1150.0" y1="440.9" x2="1114.3" y2="416.3" stroke-width="0.7" stroke-opacity="0.8"/>
<line x1="1014.9" y1="452.3" x2="951.4" y2="427.7" stroke-width="1.2" stroke-opacity="0.8"/>
<line x1="1014.9" y1="452.3" x2="1005.1" y2="432.3" stroke-width="0.7" stroke-opacity="0.8"/>
<line x1="1014.9" y1="452.3" x2="1018.0" y2="477.1" stroke-width="0.7" stroke-opacity="0.8"/>
<line x1="1014.9" y1="452.3" x2="992.9" y2="467.1" stroke-width="0.7" stroke-opacity="0.8"/>
<line x1="1014.9" y1="452.3" x2="1042.3" y2="457.1" stroke-width="0.7" stroke-opacity="0.8"/>
<line x1="1014.9" y1="452.3" x2="1005.1" y2="432.3" stroke-width="0.5" stroke-opacity="0.8"/>
<line x1="959.4" y1="392.9" x2="951.4" y2="427.7" stroke-width="1.2" stroke-opacity="0.8"/>
<line x1="959.4" y1="392.9" x2="938.6" y2="393.4" stroke-width="0.7" stroke-opacity="0.8"/>
<line x1="959.4" y1="392.9" x2="941.4" y2="371.4" stroke-width="0.7" stroke-opacity="0.8"/>
<line x1="908.6" y1="392.9" x2="951.4" y2="427.7" stroke-width="1.2" stroke-opacity="0.8"/>
<line x1="908.6" y1="392.9" x2="904.3" y2="420.0" stroke-width="0.7" stroke-opacity="0.8"/>
<line x1="908.6" y1="392.9" x2="925.1" y2="415.1" stroke-width="0.7" stroke-opacity="0.8"/>
<line x1="938.6" y1="393.4" x2="951.4" y2="427.7" stroke-width="1.2" stroke-opacity="0.8"/>
<line x1="938.6" y1="393.4" x2="925.1" y2="415.1" stroke-width="0.7" stroke-opacity="0.8"/>
<line x1="938.6" y1="393.4" x2="919.4" y2="371.4" stroke-width="0.7" stroke-opacity="0.8"/>
<line x1="938.6" y1="393.4" x2="980.0" y2="432.9" stroke-width="0.5" stroke-opacity="0.8"/>
<line x1="877.1" y1="412.9" x2="951.4" y2="427.7" stroke-width="1.2" stroke-opacity="0.8"/>
<line x1="877.1" y1="412.9" x2="877.1" y2="438.6" stroke-width="0.7" stroke-opacity="0.8"/>
<line x1="925.1" y1="415.1" x2="951.4" y2="427.7" stroke-width="0.7" stroke-opacity="0.8"/>
<line x1="852.9" y1="424.3" x2="951.4" y2="427.7" stroke-width="0.7" stroke-opacity="0.8"/>
<line x1="852.9" y1="424.3" x2="877.1" y2="412.9" stroke-width="0.7" stroke-opacity="0.8"/>
<line x1="852.9" y1="424.3" x2="877.1" y2="438.6" stroke-width="0.7" stroke-opacity="0.8"/>
<line x1="877.1" y1="438.6" x2="890.0" y2="464.3" stroke-width="0.7" stroke-opacity="0.8"/>
<line x1="980.0" y1="432.9" x2="1005.1" y2="432.3" stroke-width="0.7" stroke-opacity="0.8"/>
<line x1="980.0" y1="432.9" x2="951.4" y2="427.7" stroke-width="0.7" stroke-opacity="0.8"/>
<line x1="980.0" y1="432.9" x2="904.3" y2="420.0" stroke-width="0.5" stroke-opacity="0.8"/>
<line x1="1033.7" y1="394.9" x2="951.4" y2="427.7" stroke-width="1.2" stroke-opacity="0.8"/>
<line x1="1033.7" y1="394.9" x2="1023.7" y2="372.3" stroke-width="0.7" stroke-opacity="0.8"/>
<line x1="1033.7" y1="394.9" x2="1055.7" y2="394.9" stroke-width="0.5" stroke-opacity="0.8"/>
<line x1="951.4" y1="427.7" x2="934.3" y2="452.0" stroke-width="0.7" stroke-opacity="0.8"/>
<line x1="1005.1" y1="432.3" x2="951.4" y2="427.7" stroke-width="1.2" stroke-opacity="0.8"/>
<line x1="1005.1" y1="432.3" x2="982.3" y2="450.0" stroke-width="0.7" stroke-opacity="0.8"/>
<line x1="911.4" y1="441.4" x2="951.4" y2="427.7" stroke-width="1.2" stroke-opacity="0.8"/>
<line x1="911.4" y1="441.4" x2="890.0" y2="464.3" stroke-width="0.7" stroke-opacity="0.8"/>
<line x1="934.3" y1="452.0" x2="951.4" y2="427.7" stroke-width="1.2" stroke-opacity="0.8"/>
<line x1="934.3" y1="452.0" x2="929.1" y2="472.3" stroke-width="0.7" stroke-opacity="0.8"/>
<line x1="934.3" y1="452.0" x2="852.9" y2="424.3" stroke-width="0.5" stroke-opacity="0.8"/>
<line x1="862.9" y1="462.9" x2="872.0" y2="481.4" stroke-width="0.7" stroke-opacity="0.8"/>
<line x1="862.9" y1="462.9" x2="890.0" y2="464.3" stroke-width="0.7" stroke-opacity="0.8"/>
<line x1="862.9" y1="462.9" x2="877.1" y2="438.6" stroke-width="0.7" stroke-opacity="0.8"/>
<line x1="862.9" y1="462.9" x2="852.9" y2="424.3" stroke-width="0.7" stroke-opacity="0.8"/>
<line x1="890.0" y1="464.3" x2="951.4" y2="427.7" stroke-width="1.2" stroke-opacity="0.8"/>
<line x1="890.0" y1="464.3" x2="903.4" y2="478.6" stroke-width="0.7" stroke-opacity="0.8"/>
<line x1="890.0" y1="464.3" x2="872.0" y2="481.4" stroke-width="0.7" stroke-opacity="0.8"/>
<line x1="982.3" y1="450.0" x2="951.4" y2="427.7" stroke-width="1.2" stroke-opacity="0.8"/>
<line x1="982.3" y1="450.0" x2="992.9" y2="467.1" stroke-width="0.7" stroke-opacity="0.8"/>
<line x1="956.6" y1="460.0" x2="951.4" y2="427.7" stroke-width="1.2" stroke-opacity="0.8"/>
<line x1="956.6" y1="460.0" x2="934.3" y2="452.0" stroke-width="0.7" stroke-opacity="0.8"/>
<line x1="956.6" y1="460.0" x2="982.3" y2="450.0" stroke-width="0.7" stroke-opacity="0.8"/>
<line x1="956.6" y1="460.0" x2="929.1" y2="472.3" stroke-width="0.7" stroke-opacity="0.8"/>
<line x1="992.9" y1="467.1" x2="1018.0" y2="477.1" stroke-width="0.7" stroke-opacity="0.8"/>
<line x1="992.9" y1="467.1" x2="1042.3" y2="457.1" stroke-width="0.5" stroke-opacity="0.8"/>
<line x1="1042.3" y1="457.1" x2="1018.0" y2="477.1" stroke-width="0.7" stroke-opacity="0.8"/>
<line x1="1042.3" y1="457.1" x2="1036.6" y2="424.3" stroke-width="0.7" stroke-opacity="0.8"/>
<line x1="1077.1" y1="460.0" x2="1064.3" y2="482.9" stroke-width="0.7" stroke-opacity="0.8"/>
<line x1="1077.1" y1="460.0" x2="1107.1" y2="467.1" stroke-width="0.7" stroke-opacity="0.8"/>
<line x1="1105.7" y1="444.3" x2="1107.1" y2="467.1" stroke-width="0.7" stroke-opacity="0.8"/>
<line x1="1135.7" y1="461.4" x2="1150.0" y2="440.9" stroke-width="0.7" stroke-opacity="0.8"/>
<line x1="1135.7" y1="461.4" x2="1107.1" y2="467.1" stroke-width="0.7" stroke-opacity="0.8"/>
<line x1="1107.1" y1="467.1" x2="951.4" y2="427.7" stroke-width="0.7" stroke-opacity="0.8"/>
<line x1="1107.1" y1="467.1" x2="1095.7" y2="491.4" stroke-width="0.7" stroke-opacity="0.8"/>
<line x1="872.0" y1="481.4" x2="887.1" y2="505.7" stroke-width="0.7" stroke-opacity="0.8"/>
<line x1="872.0" y1="481.4" x2="903.4" y2="478.6" stroke-width="0.7" stroke-opacity="0.8"/>
<line x1="903.4" y1="478.6" x2="951.4" y2="427.7" stroke-width="1.2" stroke-opacity="0.8"/>
<line x1="903.4" y1="478.6" x2="908.6" y2="497.1" stroke-width="0.7" stroke-opacity="0.8"/>
<line x1="903.4" y1="478.6" x2="929.1" y2="472.3" stroke-width="0.7" stroke-opacity="0.8"/>
<line x1="929.1" y1="472.3" x2="951.4" y2="427.7" stroke-width="1.2" stroke-opacity="0.8"/>
<line x1="929.1" y1="472.3" x2="937.1" y2="495.1" stroke-width="0.7" stroke-opacity="0.8"/>
<line x1="965.7" y1="482.9" x2="951.4" y2="427.7" stroke-width="1.2" stroke-opacity="0.8"/>
<line x1="965.7" y1="482.9" x2="956.6" y2="460.0" stroke-width="0.7" stroke-opacity="0.8"/>
<line x1="965.7" y1="482.9" x2="978.6" y2="504.3" stroke-width="0.7" stroke-opacity="0.8"/>
<line x1="965.7" y1="482.9" x2="992.9" y2="467.1" stroke-width="0.7" stroke-opacity="0.8"/>
<line x1="965.7" y1="482.9" x2="980.0" y2="432.9" stroke-width="0.5" stroke-opacity="0.8"/>
<line x1="1018.0" y1="477.1" x2="951.4" y2="427.7" stroke-width="1.2" stroke-opacity="0.8"/>
<line x1="1018.0" y1="477.1" x2="1033.7" y2="498.6" stroke-width="0.7" stroke-opacity="0.8"/>
<line x1="1064.3" y1="482.9" x2="1060.0" y2="512.9" stroke-width="0.7" stroke-opacity="0.8"/>
<line x1="1064.3" y1="482.9" x2="1095.7" y2="491.4" stroke-width="0.7" stroke-opacity="0.8"/>
<line x1="1064.3" y1="482.9" x2="1042.3" y2="457.1" stroke-width="0.7" stroke-opacity="0.8"/>
<line x1="1095.7" y1="491.4" x2="951.4" y2="427.7" stroke-width="0.7" stroke-opacity="0.8"/>
<line x1="1095.7" y1="491.4" x2="1127.1" y2="490.9" stroke-width="0.7" stroke-opacity="0.8"/>
<line x1="1127.1" y1="490.9" x2="1135.7" y2="461.4" stroke-width="0.7" stroke-opacity="0.8"/>
<line x1="1127.1" y1="490.9" x2="1107.1" y2="467.1" stroke-width="0.7" stroke-opacity="0.8"/>
<line x1="1127.1" y1="490.9" x2="1086.3" y2="517.1" stroke-width="0.7" stroke-opacity="0.8"/>
<line x1="887.1" y1="505.7" x2="951.4" y2="427.7" stroke-width="0.7" stroke-opacity="0.8"/>
<line x1="887.1" y1="505.7" x2="908.6" y2="497.1" stroke-width="0.7" stroke-opacity="0.8"/>
<line x1="887.1" y1="505.7" x2="910.0" y2="518.6" stroke-width="0.7" stroke-opacity="0.8"/>
<line x1="887.1" y1="505.7" x2="903.4" y2="478.6" stroke-width="0.7" stroke-opacity="0.8"/>
<line x1="908.6" y1="497.1" x2="910.0" y2="518.6" stroke-width="0.7" stroke-opacity="0.8"/>
<line x1="908.6" y1="497.1" x2="937.1" y2="495.1" stroke-width="0.7" stroke-opacity="0.8"/>
<line x1="937.1" y1="495.1" x2="951.4" y2="427.7" stroke-width="1.2" stroke-opacity="0.8"/>
<line x1="937.1" y1="495.1" x2="965.7" y2="482.9" stroke-width="0.7" stroke-opacity="0.8"/>
<line x1="937.1" y1="495.1" x2="954.3" y2="521.4" stroke-width="0.7" stroke-opacity="0.8"/>
<line x1="978.6" y1="504.3" x2="990.0" y2="524.3" stroke-width="0.7" stroke-opacity="0.8"/>
<line x1="978.6" y1="504.3" x2="1005.7" y2="500.0" stroke-width="0.7" stroke-opacity="0.8"/>
<line x1="1005.7" y1="500.0" x2="951.4" y2="427.7" stroke-width="0.7" stroke-opacity="0.8"/>
<line x1="1005.7" y1="500.0" x2="1018.0" y2="477.1" stroke-width="0.7" stroke-opacity="0.8"/>
<line x1="1005.7" y1="500.0" x2="1033.7" y2="498.6" stroke-width="0.7" stroke-opacity="0.8"/>
<line x1="1005.7" y1="500.0" x2="990.0" y2="524.3" stroke-width="0.7" stroke-opacity="0.8"/>
<line x1="1033.7" y1="498.6" x2="951.4" y2="427.7" stroke-width="0.7" stroke-opacity="0.8"/>
<line x1="1033.7" y1="498.6" x2="1025.7" y2="527.1" stroke-width="0.7" stroke-opacity="0.8"/>
<line x1="1033.7" y1="498.6" x2="1060.0" y2="512.9" stroke-width="0.7" stroke-opacity="0.8"/>
<line x1="1060.0" y1="512.9" x2="951.4" y2="427.7" stroke-width="0.7" stroke-opacity="0.8"/>
<line x1="1060.0" y1="512.9" x2="1086.3" y2="517.1" stroke-width="0.7" stroke-opacity="0.8"/>
<line x1="1060.0" y1="512.9" x2="1025.7" y2="527.1" stroke-width="0.7" stroke-opacity="0.8"/>
<line x1="1060.0" y1="512.9" x2="1127.1" y2="490.9" stroke-width="0.5" stroke-opacity="0.8"/>
<line x1="1086.3" y1="517.1" x2="951.4" y2="427.7" stroke-width="0.7" stroke-opacity="0.8"/>
<line x1="1086.3" y1="517.1" x2="1095.7" y2="491.4" stroke-width="0.7" stroke-opacity="0.8"/>
<line x1="1086.3" y1="517.1" x2="1064.3" y2="482.9" stroke-width="0.7" stroke-opacity="0.8"/>
<line x1="910.0" y1="518.6" x2="951.4" y2="427.7" stroke-width="0.7" stroke-opacity="0.8"/>
<line x1="910.0" y1="518.6" x2="937.1" y2="495.1" stroke-width="0.7" stroke-opacity="0.8"/>
<line x1="954.3" y1="521.4" x2="951.4" y2="427.7" stroke-width="0.7" stroke-opacity="0.8"/>
<line x1="954.3" y1="521.4" x2="978.6" y2="504.3" stroke-width="0.7" stroke-opacity="0.8"/>
<line x1="954.3" y1="521.4" x2="990.0" y2="524.3" stroke-width="0.7" stroke-opacity="0.8"/>
<line x1="954.3" y1="521.4" x2="965.7" y2="482.9" stroke-width="0.7" stroke-opacity="0.8"/>
<line x1="954.3" y1="521.4" x2="990.0" y2="524.3" stroke-width="0.5" stroke-opacity="0.8"/>
<line x1="990.0" y1="524.3" x2="1025.7" y2="527.1" stroke-width="0.7" stroke-opacity="0.8"/>
<line x1="1025.7" y1="527.1" x2="1005.7" y2="500.0" stroke-width="0.7" stroke-opacity="0.8"/>
<line x1="1050.0" y1="355.1" x2="1096.6" y2="387.1" stroke-width="0.9" stroke-opacity="0.8"/>
<line x1="1134.3" y1="348.6" x2="1096.6" y2="387.1" stroke-width="0.9" stroke-opacity="0.8"/>
<line x1="1092.9" y1="357.1" x2="1096.6" y2="387.1" stroke-width="0.9" stroke-opacity="0.8"/>
<line x1="1122.9" y1="367.1" x2="1096.6" y2="387.1" stroke-width="0.9" stroke-opacity="0.8"/>
<line x1="1150.0" y1="367.1" x2="1096.6" y2="387.1" stroke-width="0.9" stroke-opacity="0.8"/>
<line x1="1096.6" y1="387.1" x2="1096.6" y2="387.1" stroke-width="0.9" stroke-opacity="0.8"/>
<line x1="1055.7" y1="394.9" x2="1096.6" y2="387.1" stroke-width="0.9" stroke-opacity="0.8"/>
<line x1="1130.0" y1="397.1" x2="1096.6" y2="387.1" stroke-width="0.9" stroke-opacity="0.8"/>
<line x1="1155.7" y1="394.3" x2="1096.6" y2="387.1" stroke-width="0.9" stroke-opacity="0.8"/>
<line x1="1114.3" y1="416.3" x2="1096.6" y2="387.1" stroke-width="0.9" stroke-opacity="0.8"/>
<line x1="1152.9" y1="416.3" x2="1096.6" y2="387.1" stroke-width="0.9" stroke-opacity="0.8"/>
<line x1="1036.6" y1="424.3" x2="1096.6" y2="387.1" stroke-width="0.9" stroke-opacity="0.8"/>
<line x1="1082.9" y1="434.9" x2="1096.6" y2="387.1" stroke-width="0.9" stroke-opacity="0.8"/>
<line x1="1058.6" y1="440.0" x2="1096.6" y2="387.1" stroke-width="0.9" stroke-opacity="0.8"/>
<line x1="1127.1" y1="435.7" x2="1096.6" y2="387.1" stroke-width="0.9" stroke-opacity="0.8"/>
<line x1="1068.6" y1="346.6" x2="1065.7" y2="370.6" stroke-width="0.8" stroke-opacity="0.8"/>
<line x1="1088.0" y1="340.0" x2="1065.7" y2="370.6" stroke-width="0.8" stroke-opacity="0.8"/>
<line x1="1112.9" y1="347.1" x2="1065.7" y2="370.6" stroke-width="0.8" stroke-opacity="0.8"/>
<line x1="1134.3" y1="348.6" x2="1065.7" y2="370.6" stroke-width="0.8" stroke-opacity="0.8"/>
<line x1="1122.9" y1="367.1" x2="1065.7" y2="370.6" stroke-width="0.8" stroke-opacity="0.8"/>
<line x1="1096.6" y1="387.1" x2="1065.7" y2="370.6" stroke-width="0.8" stroke-opacity="0.8"/>
<line x1="1055.7" y1="394.9" x2="1065.7" y2="370.6" stroke-width="0.8" stroke-opacity="0.8"/>
<line x1="1059.4" y1="414.3" x2="1065.7" y2="370.6" stroke-width="0.8" stroke-opacity="0.8"/>
<line x1="1082.9" y1="434.9" x2="1065.7" y2="370.6" stroke-width="0.8" stroke-opacity="0.8"/>
<line x1="1058.6" y1="440.0" x2="1065.7" y2="370.6" stroke-width="0.8" stroke-opacity="0.8"/>
<line x1="982.3" y1="450.0" x2="937.1" y2="495.1" stroke-width="0.6" stroke-opacity="0.8"/>
<line x1="982.3" y1="450.0" x2="978.6" y2="504.3" stroke-width="0.6" stroke-opacity="0.8"/>
<line x1="982.3" y1="450.0" x2="1005.7" y2="500.0" stroke-width="0.6" stroke-opacity="0.8"/>
<line x1="982.3" y1="450.0" x2="990.0" y2="524.3" stroke-width="0.6" stroke-opacity="0.8"/>
<line x1="956.6" y1="460.0" x2="903.4" y2="478.6" stroke-width="0.6" stroke-opacity="0.8"/>
<line x1="956.6" y1="460.0" x2="929.1" y2="472.3" stroke-width="0.6" stroke-opacity="0.8"/>
<line x1="956.6" y1="460.0" x2="1018.0" y2="477.1" stroke-width="0.6" stroke-opacity="0.8"/>
<line x1="956.6" y1="460.0" x2="1005.7" y2="500.0" stroke-width="0.6" stroke-opacity="0.8"/>
<line x1="992.9" y1="467.1" x2="1042.3" y2="457.1" stroke-width="0.6" stroke-opacity="0.8"/>
<line x1="992.9" y1="467.1" x2="965.7" y2="482.9" stroke-width="0.6" stroke-opacity="0.8"/>
<line x1="992.9" y1="467.1" x2="937.1" y2="495.1" stroke-width="0.6" stroke-opacity="0.8"/>
<line x1="992.9" y1="467.1" x2="990.0" y2="524.3" stroke-width="0.6" stroke-opacity="0.8"/>
<line x1="992.9" y1="467.1" x2="1025.7" y2="527.1" stroke-width="0.6" stroke-opacity="0.8"/>
<line x1="1042.3" y1="457.1" x2="1105.7" y2="444.3" stroke-width="0.6" stroke-opacity="0.8"/>
<line x1="1042.3" y1="457.1" x2="1018.0" y2="477.1" stroke-width="0.6" stroke-opacity="0.8"/>
<line x1="1042.3" y1="457.1" x2="1005.7" y2="500.0" stroke-width="0.6" stroke-opacity="0.8"/>
<line x1="1077.1" y1="460.0" x2="1105.7" y2="444.3" stroke-width="0.6" stroke-opacity="0.8"/>
<line x1="1077.1" y1="460.0" x2="1018.0" y2="477.1" stroke-width="0.6" stroke-opacity="0.8"/>
<line x1="1077.1" y1="460.0" x2="1064.3" y2="482.9" stroke-width="0.6" stroke-opacity="0.8"/>
<line x1="1077.1" y1="460.0" x2="1033.7" y2="498.6" stroke-width="0.6" stroke-opacity="0.8"/>
<line x1="1077.1" y1="460.0" x2="1060.0" y2="512.9" stroke-width="0.6" stroke-opacity="0.8"/>
<line x1="1077.1" y1="460.0" x2="1086.3" y2="517.1" stroke-width="0.6" stroke-opacity="0.8"/>
<line x1="1105.7" y1="444.3" x2="1135.7" y2="461.4" stroke-width="0.6" stroke-opacity="0.8"/>
<line x1="1105.7" y1="444.3" x2="1095.7" y2="491.4" stroke-width="0.6" stroke-opacity="0.8"/>
<line x1="1135.7" y1="461.4" x2="1064.3" y2="482.9" stroke-width="0.6" stroke-opacity="0.8"/>
<line x1="1107.1" y1="467.1" x2="1064.3" y2="482.9" stroke-width="0.6" stroke-opacity="0.8"/>
<line x1="872.0" y1="481.4" x2="887.1" y2="505.7" stroke-width="0.6" stroke-opacity="0.8"/>
<line x1="872.0" y1="481.4" x2="908.6" y2="497.1" stroke-width="0.6" stroke-opacity="0.8"/>
<line x1="872.0" y1="481.4" x2="937.1" y2="495.1" stroke-width="0.6" stroke-opacity="0.8"/>
<line x1="903.4" y1="478.6" x2="929.1" y2="472.3" stroke-width="0.6" stroke-opacity="0.8"/>
<line x1="903.4" y1="478.6" x2="887.1" y2="505.7" stroke-width="0.6" stroke-opacity="0.8"/>
<line x1="903.4" y1="478.6" x2="937.1" y2="495.1" stroke-width="0.6" stroke-opacity="0.8"/>
<line x1="903.4" y1="478.6" x2="954.3" y2="521.4" stroke-width="0.6" stroke-opacity="0.8"/>
<line x1="965.7" y1="482.9" x2="1005.7" y2="500.0" stroke-width="0.6" stroke-opacity="0.8"/>
<line x1="965.7" y1="482.9" x2="1025.7" y2="527.1" stroke-width="0.6" stroke-opacity="0.8"/>
<line x1="1018.0" y1="477.1" x2="1064.3" y2="482.9" stroke-width="0.6" stroke-opacity="0.8"/>
<line x1="1018.0" y1="477.1" x2="1005.7" y2="500.0" stroke-width="0.6" stroke-opacity="0.8"/>
<line x1="1018.0" y1="477.1" x2="1060.0" y2="512.9" stroke-width="0.6" stroke-opacity="0.8"/>
<line x1="1018.0" y1="477.1" x2="990.0" y2="524.3" stroke-width="0.6" stroke-opacity="0.8"/>
<line x1="1064.3" y1="482.9" x2="1127.1" y2="490.9" stroke-width="0.6" stroke-opacity="0.8"/>
<line x1="1064.3" y1="482.9" x2="1033.7" y2="498.6" stroke-width="0.6" stroke-opacity="0.8"/>
<line x1="1064.3" y1="482.9" x2="1025.7" y2="527.1" stroke-width="0.6" stroke-opacity="0.8"/>
<line x1="1095.7" y1="491.4" x2="1127.1" y2="490.9" stroke-width="0.6" stroke-opacity="0.8"/>
<line x1="1095.7" y1="491.4" x2="1033.7" y2="498.6" stroke-width="0.6" stroke-opacity="0.8"/>
<line x1="1127.1" y1="490.9" x2="1060.0" y2="512.9" stroke-width="0.6" stroke-opacity="0.8"/>
<line x1="887.1" y1="505.7" x2="954.3" y2="521.4" stroke-width="0.6" stroke-opacity="0.8"/>
<line x1="908.6" y1="497.1" x2="937.1" y2="495.1" stroke-width="0.6" stroke-opacity="0.8"/>
<line x1="908.6" y1="497.1" x2="978.6" y2="504.3" stroke-width="0.6" stroke-opacity="0.8"/>
<line x1="908.6" y1="497.1" x2="954.3" y2="521.4" stroke-width="0.6" stroke-opacity="0.8"/>
<line x1="937.1" y1="495.1" x2="978.6" y2="504.3" stroke-width="0.6" stroke-opacity="0.8"/>
<line x1="937.1" y1="495.1" x2="1005.7" y2="500.0" stroke-width="0.6" stroke-opacity="0.8"/>
<line x1="937.1" y1="495.1" x2="910.0" y2="518.6" stroke-width="0.6" stroke-opacity="0.8"/>
<line x1="1005.7" y1="500.0" x2="1033.7" y2="498.6" stroke-width="0.6" stroke-opacity="0.8"/>
<line x1="1005.7" y1="500.0" x2="1060.0" y2="512.9" stroke-width="0.6" stroke-opacity="0.8"/>
<line x1="1005.7" y1="500.0" x2="954.3" y2="521.4" stroke-width="0.6" stroke-opacity="0.8"/>
<line x1="1005.7" y1="500.0" x2="1025.7" y2="527.1" stroke-width="0.6" stroke-opacity="0.8"/>
<line x1="1033.7" y1="498.6" x2="1025.7" y2="527.1" stroke-width="0.6" stroke-opacity="0.8"/>
<line x1="1060.0" y1="512.9" x2="1086.3" y2="517.1" stroke-width="0.6" stroke-opacity="0.8"/>
<line x1="1060.0" y1="512.9" x2="990.0" y2="524.3" stroke-width="0.6" stroke-opacity="0.8"/>
<line x1="990.0" y1="524.3" x2="1025.7" y2="527.1" stroke-width="0.6" stroke-opacity="0.8"/>
<line x1="947.1" y1="331.4" x2="972.0" y2="327.1" stroke-width="0.7" stroke-opacity="0.8"/>
<line x1="1027.1" y1="347.1" x2="1088.0" y2="340.0" stroke-width="0.7" stroke-opacity="0.8"/>
<line x1="1050.0" y1="355.1" x2="1092.9" y2="357.1" stroke-width="0.7" stroke-opacity="0.8"/>
<line x1="1050.0" y1="355.1" x2="1096.6" y2="387.1" stroke-width="0.7" stroke-opacity="0.8"/>
<line x1="1050.0" y1="355.1" x2="1055.7" y2="394.9" stroke-width="0.7" stroke-opacity="0.8"/>
<line x1="1088.0" y1="340.0" x2="1112.9" y2="347.1" stroke-width="0.7" stroke-opacity="0.8"/>
<line x1="1088.0" y1="340.0" x2="1065.7" y2="370.6" stroke-width="0.7" stroke-opacity="0.8"/>
<line x1="1088.0" y1="340.0" x2="1055.7" y2="394.9" stroke-width="0.7" stroke-opacity="0.8"/>
<line x1="1112.9" y1="347.1" x2="1065.7" y2="370.6" stroke-width="0.7" stroke-opacity="0.8"/>
<line x1="1112.9" y1="347.1" x2="1130.0" y2="397.1" stroke-width="0.7" stroke-opacity="0.8"/>
<line x1="1112.9" y1="347.1" x2="1155.7" y2="394.3" stroke-width="0.7" stroke-opacity="0.8"/>
<line x1="1134.3" y1="348.6" x2="1130.0" y2="397.1" stroke-width="0.7" stroke-opacity="0.8"/>
<line x1="1065.7" y1="370.6" x2="1092.9" y2="357.1" stroke-width="0.7" stroke-opacity="0.8"/>
<line x1="1065.7" y1="370.6" x2="1036.6" y2="424.3" stroke-width="0.7" stroke-opacity="0.8"/>
<line x1="1065.7" y1="370.6" x2="1082.9" y2="434.9" stroke-width="0.7" stroke-opacity="0.8"/>
<line x1="1092.9" y1="357.1" x2="1096.6" y2="387.1" stroke-width="0.7" stroke-opacity="0.8"/>
<line x1="1092.9" y1="357.1" x2="1114.3" y2="416.3" stroke-width="0.7" stroke-opacity="0.8"/>
<line x1="1122.9" y1="367.1" x2="1130.0" y2="397.1" stroke-width="0.7" stroke-opacity="0.8"/>
<line x1="1122.9" y1="367.1" x2="1155.7" y2="394.3" stroke-width="0.7" stroke-opacity="0.8"/>
<line x1="1150.0" y1="367.1" x2="1096.6" y2="387.1" stroke-width="0.7" stroke-opacity="0.8"/>
<line x1="1150.0" y1="367.1" x2="1152.9" y2="416.3" stroke-width="0.7" stroke-opacity="0.8"/>
<line x1="1096.6" y1="387.1" x2="1059.4" y2="414.3" stroke-width="0.7" stroke-opacity="0.8"/>
<line x1="1096.6" y1="387.1" x2="1114.3" y2="416.3" stroke-width="0.7" stroke-opacity="0.8"/>
<line x1="1096.6" y1="387.1" x2="1082.9" y2="434.9" stroke-width="0.7" stroke-opacity="0.8"/>
<line x1="1055.7" y1="394.9" x2="1114.3" y2="416.3" stroke-width="0.7" stroke-opacity="0.8"/>
<line x1="1055.7" y1="394.9" x2="1036.6" y2="424.3" stroke-width="0.7" stroke-opacity="0.8"/>
<line x1="1130.0" y1="397.1" x2="1152.9" y2="416.3" stroke-width="0.7" stroke-opacity="0.8"/>
<line x1="1130.0" y1="397.1" x2="1127.1" y2="435.7" stroke-width="0.7" stroke-opacity="0.8"/>
<line x1="1155.7" y1="394.3" x2="1114.3" y2="416.3" stroke-width="0.7" stroke-opacity="0.8"/>
<line x1="1155.7" y1="394.3" x2="1127.1" y2="435.7" stroke-width="0.7" stroke-opacity="0.8"/>
<line x1="1155.7" y1="394.3" x2="1150.0" y2="440.9" stroke-width="0.7" stroke-opacity="0.8"/>
<line x1="1114.3" y1="416.3" x2="1150.0" y2="440.9" stroke-width="0.7" stroke-opacity="0.8"/>
<line x1="1036.6" y1="424.3" x2="1058.6" y2="440.0" stroke-width="0.7" stroke-opacity="0.8"/>
<line x1="1058.6" y1="440.0" x2="1014.9" y2="452.3" stroke-width="0.7" stroke-opacity="0.8"/>
</g>
<circle cx="868.6" cy="354.3" r="12.0" fill="url(#cgb)" stroke="#93a5e2" stroke-width="1.2"/>
<rect x="861.7" y="352.0" width="13.8" height="1.5" fill="#222" opacity="0.5"/>
<rect x="863.1" y="355.0" width="11.0" height="1.5" fill="#222" opacity="0.46"/>
<circle cx="900.0" cy="347.1" r="12.0" fill="url(#cgb)" stroke="#93a5e2" stroke-width="1.2"/>
<rect x="893.1" y="344.8" width="13.8" height="1.5" fill="#222" opacity="0.5"/>
<rect x="894.5" y="347.8" width="11.0" height="1.5" fill="#222" opacity="0.46"/>
<circle cx="920.9" cy="331.4" r="8.0" fill="url(#cgb)" stroke="#93a5e2" stroke-width="1.2"/>
<rect x="916.3" y="330.5" width="9.2" height="1.5" fill="#222" opacity="0.45"/>
<circle cx="935.7" cy="350.0" r="11.4" fill="url(#cgb)" stroke="#93a5e2" stroke-width="1.2"/>
<rect x="929.1" y="347.7" width="13.1" height="1.5" fill="#222" opacity="0.5"/>
<rect x="930.5" y="350.7" width="10.5" height="1.5" fill="#222" opacity="0.46"/>
<circle cx="852.9" cy="376.3" r="8.6" fill="url(#cgb)" stroke="#93a5e2" stroke-width="1.2"/>
<rect x="847.9" y="374.0" width="9.9" height="1.5" fill="#222" opacity="0.5"/>
<rect x="848.9" y="377.0" width="7.9" height="1.5" fill="#222" opacity="0.46"/>
<circle cx="874.3" cy="375.1" r="8.6" fill="url(#cgb)" stroke="#93a5e2" stroke-width="1.2"/>
<rect x="869.4" y="372.8" width="9.9" height="1.5" fill="#222" opacity="0.5"/>
<rect x="870.3" y="375.8" width="7.9" height="1.5" fill="#222" opacity="0.46"/>
<circle cx="895.7" cy="372.9" r="8.6" fill="url(#cgb)" stroke="#93a5e2" stroke-width="1.2"/>
<rect x="890.8" y="370.6" width="9.9" height="1.5" fill="#222" opacity="0.5"/>
<rect x="891.8" y="373.6" width="7.9" height="1.5" fill="#222" opacity="0.46"/>
<circle cx="919.4" cy="371.4" r="7.7" fill="url(#cgb)" stroke="#93a5e2" stroke-width="1.2"/>
<rect x="915.0" y="370.5" width="8.9" height="1.5" fill="#222" opacity="0.45"/>
<circle cx="851.4" cy="401.4" r="12.9" fill="url(#cgb)" stroke="#93a5e2" stroke-width="1.2"/>
<rect x="844.0" y="399.1" width="14.8" height="1.5" fill="#222" opacity="0.5"/>
<rect x="845.5" y="402.1" width="11.8" height="1.5" fill="#222" opacity="0.46"/>
<circle cx="904.3" cy="420.0" r="9.1" fill="url(#cgb)" stroke="#93a5e2" stroke-width="1.2"/>
<rect x="899.0" y="417.7" width="10.5" height="1.5" fill="#222" opacity="0.5"/>
<rect x="900.1" y="420.7" width="8.4" height="1.5" fill="#222" opacity="0.46"/>
<circle cx="977.1" cy="414.3" r="8.6" fill="url(#cgb)" stroke="#93a5e2" stroke-width="1.2"/>
<rect x="972.2" y="412.0" width="9.9" height="1.5" fill="#222" opacity="0.5"/>
<rect x="973.2" y="415.0" width="7.9" height="1.5" fill="#222" opacity="0.46"/>
<circle cx="955.7" cy="352.3" r="7.4" fill="url(#cgo)" stroke="#eca87c" stroke-width="1.2"/>
<rect x="951.4" y="351.4" width="8.5" height="1.5" fill="#222" opacity="0.45"/>
<circle cx="976.6" cy="343.7" r="9.1" fill="url(#cgo)" stroke="#eca87c" stroke-width="1.2"/>
<rect x="971.3" y="341.4" width="10.5" height="1.5" fill="#222" opacity="0.5"/>
<rect x="972.4" y="344.4" width="8.4" height="1.5" fill="#222" opacity="0.46"/>
<circle cx="995.7" cy="331.4" r="8.0" fill="url(#cgo)" stroke="#eca87c" stroke-width="1.2"/>
<rect x="991.1" y="330.5" width="9.2" height="1.5" fill="#222" opacity="0.45"/>
<circle cx="1021.4" cy="330.0" r="8.0" fill="url(#cgo)" stroke="#eca87c" stroke-width="1.2"/>
<rect x="1016.8" y="329.1" width="9.2" height="1.5" fill="#222" opacity="0.45"/>
<circle cx="1050.0" cy="335.7" r="10.9" fill="url(#cgo)" stroke="#eca87c" stroke-width="1.2"/>
<rect x="1043.8" y="333.4" width="12.5" height="1.5" fill="#222" opacity="0.5"/>
<rect x="1045.0" y="336.4" width="10.0" height="1.5" fill="#222" opacity="0.46"/>
<circle cx="1000.9" cy="350.9" r="12.0" fill="url(#cgo)" stroke="#eca87c" stroke-width="1.2"/>
<rect x="994.0" y="348.6" width="13.8" height="1.5" fill="#222" opacity="0.5"/>
<rect x="995.3" y="351.6" width="11.0" height="1.5" fill="#222" opacity="0.46"/>
<circle cx="941.4" cy="371.4" r="8.6" fill="url(#cgo)" stroke="#eca87c" stroke-width="1.2"/>
<rect x="936.5" y="369.1" width="9.9" height="1.5" fill="#222" opacity="0.5"/>
<rect x="937.5" y="372.1" width="7.9" height="1.5" fill="#222" opacity="0.46"/>
<circle cx="970.9" cy="372.3" r="11.4" fill="url(#cgo)" stroke="#eca87c" stroke-width="1.2"/>
<rect x="964.3" y="370.0" width="13.1" height="1.5" fill="#222" opacity="0.5"/>
<rect x="965.6" y="373.0" width="10.5" height="1.5" fill="#222" opacity="0.46"/>
<circle cx="1000.9" cy="372.9" r="8.6" fill="url(#cgo)" stroke="#eca87c" stroke-width="1.2"/>
<rect x="995.9" y="370.6" width="9.9" height="1.5" fill="#222" opacity="0.5"/>
<rect x="996.9" y="373.6" width="7.9" height="1.5" fill="#222" opacity="0.46"/>
<circle cx="1023.7" cy="372.3" r="8.6" fill="url(#cgo)" stroke="#eca87c" stroke-width="1.2"/>
<rect x="1018.8" y="370.0" width="9.9" height="1.5" fill="#222" opacity="0.5"/>
<rect x="1019.8" y="373.0" width="7.9" height="1.5" fill="#222" opacity="0.46"/>
<circle cx="1045.1" cy="378.6" r="7.4" fill="url(#cgo)" stroke="#eca87c" stroke-width="1.2"/>
<rect x="1040.9" y="377.7" width="8.5" height="1.5" fill="#222" opacity="0.45"/>
<circle cx="988.0" cy="390.0" r="8.6" fill="url(#cgo)" stroke="#eca87c" stroke-width="1.2"/>
<rect x="983.1" y="387.7" width="9.9" height="1.5" fill="#222" opacity="0.5"/>
<rect x="984.1" y="390.7" width="7.9" height="1.5" fill="#222" opacity="0.46"/>
<circle cx="1006.6" cy="405.7" r="10.9" fill="url(#cgo)" stroke="#eca87c" stroke-width="1.2"/>
<rect x="1000.3" y="403.4" width="12.5" height="1.5" fill="#222" opacity="0.5"/>
<rect x="1001.6" y="406.4" width="10.0" height="1.5" fill="#222" opacity="0.46"/>
<circle cx="878.6" cy="393.4" r="7.4" fill="url(#cgo)" stroke="#eca87c" stroke-width="1.2"/>
<rect x="874.3" y="392.5" width="8.5" height="1.5" fill="#222" opacity="0.45"/>
<circle cx="947.1" cy="331.4" r="10.9" fill="url(#cgg)" stroke="#8cdc64" stroke-width="1.2"/>
<rect x="940.9" y="329.1" width="12.5" height="1.5" fill="#222" opacity="0.5"/>
<rect x="942.1" y="332.1" width="10.0" height="1.5" fill="#222" opacity="0.46"/>
<circle cx="972.0" cy="327.1" r="8.0" fill="url(#cgg)" stroke="#8cdc64" stroke-width="1.2"/>
<rect x="967.4" y="326.2" width="9.2" height="1.5" fill="#222" opacity="0.45"/>
<circle cx="1027.1" cy="347.1" r="8.6" fill="url(#cgg)" stroke="#8cdc64" stroke-width="1.2"/>
<rect x="1022.2" y="344.8" width="9.9" height="1.5" fill="#222" opacity="0.5"/>
<rect x="1023.2" y="347.8" width="7.9" height="1.5" fill="#222" opacity="0.46"/>
<circle cx="1050.0" cy="355.1" r="8.6" fill="url(#cgg)" stroke="#8cdc64" stroke-width="1.2"/>
<rect x="1045.1" y="352.8" width="9.9" height="1.5" fill="#222" opacity="0.5"/>
<rect x="1046.1" y="355.8" width="7.9" height="1.5" fill="#222" opacity="0.46"/>
<circle cx="1068.6" cy="346.6" r="8.0" fill="url(#cgg)" stroke="#8cdc64" stroke-width="1.2"/>
<rect x="1064.0" y="345.7" width="9.2" height="1.5" fill="#222" opacity="0.45"/>
<circle cx="1088.0" cy="340.0" r="8.6" fill="url(#cgg)" stroke="#8cdc64" stroke-width="1.2"/>
<rect x="1083.1" y="337.7" width="9.9" height="1.5" fill="#222" opacity="0.5"/>
<rect x="1084.1" y="340.7" width="7.9" height="1.5" fill="#222" opacity="0.46"/>
<circle cx="1112.9" cy="347.1" r="9.1" fill="url(#cgg)" stroke="#8cdc64" stroke-width="1.2"/>
<rect x="1107.6" y="344.8" width="10.5" height="1.5" fill="#222" opacity="0.5"/>
<rect x="1108.7" y="347.8" width="8.4" height="1.5" fill="#222" opacity="0.46"/>
<circle cx="1134.3" cy="348.6" r="8.6" fill="url(#cgg)" stroke="#8cdc64" stroke-width="1.2"/>
<rect x="1129.4" y="346.3" width="9.9" height="1.5" fill="#222" opacity="0.5"/>
<rect x="1130.3" y="349.3" width="7.9" height="1.5" fill="#222" opacity="0.46"/>
<circle cx="1065.7" cy="370.6" r="12.0" fill="url(#cgg)" stroke="#8cdc64" stroke-width="1.2"/>
<rect x="1058.8" y="368.3" width="13.8" height="1.5" fill="#222" opacity="0.5"/>
<rect x="1060.2" y="371.3" width="11.0" height="1.5" fill="#222" opacity="0.46"/>
<circle cx="1092.9" cy="357.1" r="9.1" fill="url(#cgg)" stroke="#8cdc64" stroke-width="1.2"/>
<rect x="1087.6" y="354.8" width="10.5" height="1.5" fill="#222" opacity="0.5"/>
<rect x="1088.7" y="357.8" width="8.4" height="1.5" fill="#222" opacity="0.46"/>
<circle cx="1122.9" cy="367.1" r="11.4" fill="url(#cgg)" stroke="#8cdc64" stroke-width="1.2"/>
<rect x="1116.3" y="364.8" width="13.1" height="1.5" fill="#222" opacity="0.5"/>
<rect x="1117.6" y="367.8" width="10.5" height="1.5" fill="#222" opacity="0.46"/>
<circle cx="1150.0" cy="367.1" r="11.4" fill="url(#cgg)" stroke="#8cdc64" stroke-width="1.2"/>
<rect x="1143.4" y="364.8" width="13.1" height="1.5" fill="#222" opacity="0.5"/>
<rect x="1144.7" y="367.8" width="10.5" height="1.5" fill="#222" opacity="0.46"/>
<circle cx="1096.6" cy="387.1" r="12.0" fill="url(#cgg)" stroke="#8cdc64" stroke-width="1.2"/>
<rect x="1089.7" y="384.8" width="13.8" height="1.5" fill="#222" opacity="0.5"/>
<rect x="1091.1" y="387.8" width="11.0" height="1.5" fill="#222" opacity="0.46"/>
<circle cx="1055.7" cy="394.9" r="8.0" fill="url(#cgg)" stroke="#8cdc64" stroke-width="1.2"/>
<rect x="1051.1" y="394.0" width="9.2" height="1.5" fill="#222" opacity="0.45"/>
<circle cx="1130.0" cy="397.1" r="11.4" fill="url(#cgg)" stroke="#8cdc64" stroke-width="1.2"/>
<rect x="1123.4" y="394.8" width="13.1" height="1.5" fill="#222" opacity="0.5"/>
<rect x="1124.7" y="397.8" width="10.5" height="1.5" fill="#222" opacity="0.46"/>
<circle cx="1155.7" cy="394.3" r="9.1" fill="url(#cgg)" stroke="#8cdc64" stroke-width="1.2"/>
<rect x="1150.5" y="392.0" width="10.5" height="1.5" fill="#222" opacity="0.5"/>
<rect x="1151.5" y="395.0" width="8.4" height="1.5" fill="#222" opacity="0.46"/>
<circle cx="1059.4" cy="414.3" r="9.1" fill="url(#cgg)" stroke="#8cdc64" stroke-width="1.2"/>
<rect x="1054.2" y="412.0" width="10.5" height="1.5" fill="#222" opacity="0.5"/>
<rect x="1055.2" y="415.0" width="8.4" height="1.5" fill="#222" opacity="0.46"/>
<circle cx="1114.3" cy="416.3" r="8.6" fill="url(#cgg)" stroke="#8cdc64" stroke-width="1.2"/>
<rect x="1109.4" y="414.0" width="9.9" height="1.5" fill="#222" opacity="0.5"/>
<rect x="1110.3" y="417.0" width="7.9" height="1.5" fill="#222" opacity="0.46"/>
<circle cx="1152.9" cy="416.3" r="8.0" fill="url(#cgg)" stroke="#8cdc64" stroke-width="1.2"/>
<rect x="1148.3" y="415.4" width="9.2" height="1.5" fill="#222" opacity="0.45"/>
<circle cx="1036.6" cy="424.3" r="14.9" fill="url(#cgg)" stroke="#8cdc64" stroke-width="1.2"/>
<rect x="1028.0" y="422.0" width="17.1" height="1.5" fill="#222" opacity="0.5"/>
<rect x="1029.7" y="425.0" width="13.7" height="1.5" fill="#222" opacity="0.46"/>
<circle cx="1082.9" cy="434.9" r="11.4" fill="url(#cgg)" stroke="#8cdc64" stroke-width="1.2"/>
<rect x="1076.3" y="432.6" width="13.1" height="1.5" fill="#222" opacity="0.5"/>
<rect x="1077.6" y="435.6" width="10.5" height="1.5" fill="#222" opacity="0.46"/>
<circle cx="1058.6" cy="440.0" r="10.9" fill="url(#cgg)" stroke="#8cdc64" stroke-width="1.2"/>
<rect x="1052.3" y="437.7" width="12.5" height="1.5" fill="#222" opacity="0.5"/>
<rect x="1053.6" y="440.7" width="10.0" height="1.5" fill="#222" opacity="0.46"/>
<circle cx="1127.1" cy="435.7" r="8.6" fill="url(#cgg)" stroke="#8cdc64" stroke-width="1.2"/>
<rect x="1122.2" y="433.4" width="9.9" height="1.5" fill="#222" opacity="0.5"/>
<rect x="1123.2" y="436.4" width="7.9" height="1.5" fill="#222" opacity="0.46"/>
<circle cx="1150.0" cy="440.9" r="8.6" fill="url(#cgg)" stroke="#8cdc64" stroke-width="1.2"/>
<rect x="1145.1" y="438.6" width="9.9" height="1.5" fill="#222" opacity="0.5"/>
<rect x="1146.1" y="441.6" width="7.9" height="1.5" fill="#222" opacity="0.46"/>
<circle cx="1014.9" cy="452.3" r="10.9" fill="url(#cgg)" stroke="#8cdc64" stroke-width="1.2"/>
<rect x="1008.6" y="450.0" width="12.5" height="1.5" fill="#222" opacity="0.5"/>
<rect x="1009.9" y="453.0" width="10.0" height="1.5" fill="#222" opacity="0.46"/>
<circle cx="959.4" cy="392.9" r="10.0" fill="url(#cgg)" stroke="#8cdc64" stroke-width="1.2"/>
<rect x="953.7" y="390.6" width="11.5" height="1.5" fill="#222" opacity="0.5"/>
<rect x="954.8" y="393.6" width="9.2" height="1.5" fill="#222" opacity="0.46"/>
<circle cx="908.6" cy="392.9" r="12.0" fill="url(#cgy)" stroke="#e2cc48" stroke-width="1.2"/>
<rect x="901.7" y="390.6" width="13.8" height="1.5" fill="#222" opacity="0.5"/>
<rect x="903.1" y="393.6" width="11.0" height="1.5" fill="#222" opacity="0.46"/>
<circle cx="938.6" cy="393.4" r="6.9" fill="url(#cgy)" stroke="#e2cc48" stroke-width="1.2"/>
<rect x="934.6" y="392.5" width="7.9" height="1.5" fill="#222" opacity="0.45"/>
<circle cx="877.1" cy="412.9" r="10.9" fill="url(#cgy)" stroke="#e2cc48" stroke-width="1.2"/>
<rect x="870.9" y="410.6" width="12.5" height="1.5" fill="#222" opacity="0.5"/>
<rect x="872.1" y="413.6" width="10.0" height="1.5" fill="#222" opacity="0.46"/>
<circle cx="925.1" cy="415.1" r="7.4" fill="url(#cgy)" stroke="#e2cc48" stroke-width="1.2"/>
<rect x="920.9" y="414.2" width="8.5" height="1.5" fill="#222" opacity="0.45"/>
<circle cx="852.9" cy="424.3" r="8.6" fill="url(#cgy)" stroke="#e2cc48" stroke-width="1.2"/>
<rect x="847.9" y="422.0" width="9.9" height="1.5" fill="#222" opacity="0.5"/>
<rect x="848.9" y="425.0" width="7.9" height="1.5" fill="#222" opacity="0.46"/>
<circle cx="877.1" cy="438.6" r="14.9" fill="url(#cgy)" stroke="#e2cc48" stroke-width="1.2"/>
<rect x="868.6" y="436.3" width="17.1" height="1.5" fill="#222" opacity="0.5"/>
<rect x="870.3" y="439.3" width="13.7" height="1.5" fill="#222" opacity="0.46"/>
<circle cx="980.0" cy="432.9" r="7.4" fill="url(#cgy)" stroke="#e2cc48" stroke-width="1.2"/>
<rect x="975.7" y="432.0" width="8.5" height="1.5" fill="#222" opacity="0.45"/>
<circle cx="1033.7" cy="394.9" r="11.4" fill="url(#cgc)" stroke="#80e0e0" stroke-width="1.2"/>
<rect x="1027.1" y="392.6" width="13.1" height="1.5" fill="#222" opacity="0.5"/>
<rect x="1028.5" y="395.6" width="10.5" height="1.5" fill="#222" opacity="0.46"/>
<circle cx="951.4" cy="427.7" r="12.0" fill="url(#cgc)" stroke="#80e0e0" stroke-width="1.2"/>
<text x="944.5" y="429.4" font-family='"Liberation Sans", sans-serif' font-size="4.6" font-weight="bold" fill="#23304a" textLength="13.8" lengthAdjust="spacingAndGlyphs">DBpedia</text>
<circle cx="1005.1" cy="432.3" r="12.0" fill="url(#cgc)" stroke="#80e0e0" stroke-width="1.2"/>
<rect x="998.2" y="430.0" width="13.8" height="1.5" fill="#222" opacity="0.5"/>
<rect x="999.6" y="433.0" width="11.0" height="1.5" fill="#222" opacity="0.46"/>
<circle cx="911.4" cy="441.4" r="10.9" fill="url(#cgc)" stroke="#80e0e0" stroke-width="1.2"/>
<rect x="905.2" y="439.1" width="12.5" height="1.5" fill="#222" opacity="0.5"/>
<rect x="906.4" y="442.1" width="10.0" height="1.5" fill="#222" opacity="0.46"/>
<circle cx="934.3" cy="452.0" r="8.0" fill="url(#cgc)" stroke="#80e0e0" stroke-width="1.2"/>
<rect x="929.7" y="451.1" width="9.2" height="1.5" fill="#222" opacity="0.45"/>
<circle cx="862.9" cy="462.9" r="8.6" fill="url(#cgc)" stroke="#80e0e0" stroke-width="1.2"/>
<rect x="857.9" y="460.6" width="9.9" height="1.5" fill="#222" opacity="0.5"/>
<rect x="858.9" y="463.6" width="7.9" height="1.5" fill="#222" opacity="0.46"/>
<circle cx="890.0" cy="464.3" r="9.1" fill="url(#cgc)" stroke="#80e0e0" stroke-width="1.2"/>
<rect x="884.7" y="462.0" width="10.5" height="1.5" fill="#222" opacity="0.5"/>
<rect x="885.8" y="465.0" width="8.4" height="1.5" fill="#222" opacity="0.46"/>
<circle cx="982.3" cy="450.0" r="8.0" fill="url(#cgp)" stroke="#e88cc0" stroke-width="1.2"/>
<rect x="977.7" y="449.1" width="9.2" height="1.5" fill="#222" opacity="0.45"/>
<circle cx="956.6" cy="460.0" r="9.7" fill="url(#cgp)" stroke="#e88cc0" stroke-width="1.2"/>
<rect x="951.0" y="457.7" width="11.2" height="1.5" fill="#222" opacity="0.5"/>
<rect x="952.1" y="460.7" width="8.9" height="1.5" fill="#222" opacity="0.46"/>
<circle cx="992.9" cy="467.1" r="9.1" fill="url(#cgp)" stroke="#e88cc0" stroke-width="1.2"/>
<rect x="987.6" y="464.8" width="10.5" height="1.5" fill="#222" opacity="0.5"/>
<rect x="988.7" y="467.8" width="8.4" height="1.5" fill="#222" opacity="0.46"/>
<circle cx="1042.3" cy="457.1" r="10.9" fill="url(#cgp)" stroke="#e88cc0" stroke-width="1.2"/>
<rect x="1036.0" y="454.8" width="12.5" height="1.5" fill="#222" opacity="0.5"/>
<rect x="1037.3" y="457.8" width="10.0" height="1.5" fill="#222" opacity="0.46"/>
<circle cx="1077.1" cy="460.0" r="11.4" fill="url(#cgp)" stroke="#e88cc0" stroke-width="1.2"/>
<rect x="1070.6" y="457.7" width="13.1" height="1.5" fill="#222" opacity="0.5"/>
<rect x="1071.9" y="460.7" width="10.5" height="1.5" fill="#222" opacity="0.46"/>
<circle cx="1105.7" cy="444.3" r="11.4" fill="url(#cgp)" stroke="#e88cc0" stroke-width="1.2"/>
<rect x="1099.1" y="442.0" width="13.1" height="1.5" fill="#222" opacity="0.5"/>
<rect x="1100.5" y="445.0" width="10.5" height="1.5" fill="#222" opacity="0.46"/>
<circle cx="1135.7" cy="461.4" r="10.9" fill="url(#cgp)" stroke="#e88cc0" stroke-width="1.2"/>
<rect x="1129.5" y="459.1" width="12.5" height="1.5" fill="#222" opacity="0.5"/>
<rect x="1130.7" y="462.1" width="10.0" height="1.5" fill="#222" opacity="0.46"/>
<circle cx="1107.1" cy="467.1" r="10.9" fill="url(#cgp)" stroke="#e88cc0" stroke-width="1.2"/>
<rect x="1100.9" y="464.8" width="12.5" height="1.5" fill="#222" opacity="0.5"/>
<rect x="1102.1" y="467.8" width="10.0" height="1.5" fill="#222" opacity="0.46"/>
<circle cx="872.0" cy="481.4" r="10.9" fill="url(#cgp)" stroke="#e88cc0" stroke-width="1.2"/>
<rect x="865.8" y="479.1" width="12.5" height="1.5" fill="#222" opacity="0.5"/>
<rect x="867.0" y="482.1" width="10.0" height="1.5" fill="#222" opacity="0.46"/>
<circle cx="903.4" cy="478.6" r="8.6" fill="url(#cgp)" stroke="#e88cc0" stroke-width="1.2"/>
<rect x="898.5" y="476.3" width="9.9" height="1.5" fill="#222" opacity="0.5"/>
<rect x="899.5" y="479.3" width="7.9" height="1.5" fill="#222" opacity="0.46"/>
<circle cx="929.1" cy="472.3" r="8.0" fill="url(#cgp)" stroke="#e88cc0" stroke-width="1.2"/>
<rect x="924.5" y="471.4" width="9.2" height="1.5" fill="#222" opacity="0.45"/>
<circle cx="965.7" cy="482.9" r="11.4" fill="url(#cgp)" stroke="#e88cc0" stroke-width="1.2"/>
<rect x="959.1" y="480.6" width="13.1" height="1.5" fill="#222" opacity="0.5"/>
<rect x="960.5" y="483.6" width="10.5" height="1.5" fill="#222" opacity="0.46"/>
<circle cx="1018.0" cy="477.1" r="10.9" fill="url(#cgp)" stroke="#e88cc0" stroke-width="1.2"/>
<rect x="1011.8" y="474.8" width="12.5" height="1.5" fill="#222" opacity="0.5"/>
<rect x="1013.0" y="477.8" width="10.0" height="1.5" fill="#222" opacity="0.46"/>
<circle cx="1064.3" cy="482.9" r="11.4" fill="url(#cgp)" stroke="#e88cc0" stroke-width="1.2"/>
<rect x="1057.7" y="480.6" width="13.1" height="1.5" fill="#222" opacity="0.5"/>
<rect x="1059.0" y="483.6" width="10.5" height="1.5" fill="#222" opacity="0.46"/>
<circle cx="1095.7" cy="491.4" r="10.9" fill="url(#cgp)" stroke="#e88cc0" stroke-width="1.2"/>
<rect x="1089.5" y="489.1" width="12.5" height="1.5" fill="#222" opacity="0.5"/>
<rect x="1090.7" y="492.1" width="10.0" height="1.5" fill="#222" opacity="0.46"/>
<circle cx="1127.1" cy="490.9" r="10.3" fill="url(#cgp)" stroke="#e88cc0" stroke-width="1.2"/>
<rect x="1121.2" y="488.6" width="11.8" height="1.5" fill="#222" opacity="0.5"/>
<rect x="1122.4" y="491.6" width="9.5" height="1.5" fill="#222" opacity="0.46"/>
<circle cx="887.1" cy="505.7" r="8.6" fill="url(#cgp)" stroke="#e88cc0" stroke-width="1.2"/>
<rect x="882.2" y="503.4" width="9.9" height="1.5" fill="#222" opacity="0.5"/>
<rect x="883.2" y="506.4" width="7.9" height="1.5" fill="#222" opacity="0.46"/>
<circle cx="908.6" cy="497.1" r="8.6" fill="url(#cgp)" stroke="#e88cc0" stroke-width="1.2"/>
<rect x="903.6" y="494.8" width="9.9" height="1.5" fill="#222" opacity="0.5"/>
<rect x="904.6" y="497.8" width="7.9" height="1.5" fill="#222" opacity="0.46"/>
<circle cx="937.1" cy="495.1" r="10.0" fill="url(#cgp)" stroke="#e88cc0" stroke-width="1.2"/>
<rect x="931.4" y="492.8" width="11.5" height="1.5" fill="#222" opacity="0.5"/>
<rect x="932.5" y="495.8" width="9.2" height="1.5" fill="#222" opacity="0.46"/>
<circle cx="978.6" cy="504.3" r="10.9" fill="url(#cgp)" stroke="#e88cc0" stroke-width="1.2"/>
<rect x="972.3" y="502.0" width="12.5" height="1.5" fill="#222" opacity="0.5"/>
<rect x="973.6" y="505.0" width="10.0" height="1.5" fill="#222" opacity="0.46"/>
<circle cx="1005.7" cy="500.0" r="9.1" fill="url(#cgp)" stroke="#e88cc0" stroke-width="1.2"/>
<rect x="1000.5" y="497.7" width="10.5" height="1.5" fill="#222" opacity="0.5"/>
<rect x="1001.5" y="500.7" width="8.4" height="1.5" fill="#222" opacity="0.46"/>
<circle cx="1033.7" cy="498.6" r="11.4" fill="url(#cgp)" stroke="#e88cc0" stroke-width="1.2"/>
<rect x="1027.1" y="496.3" width="13.1" height="1.5" fill="#222" opacity="0.5"/>
<rect x="1028.5" y="499.3" width="10.5" height="1.5" fill="#222" opacity="0.46"/>
<circle cx="1060.0" cy="512.9" r="8.6" fill="url(#cgp)" stroke="#e88cc0" stroke-width="1.2"/>
<rect x="1055.1" y="510.6" width="9.9" height="1.5" fill="#222" opacity="0.5"/>
<rect x="1056.1" y="513.6" width="7.9" height="1.5" fill="#222" opacity="0.46"/>
<circle cx="1086.3" cy="517.1" r="10.9" fill="url(#cgp)" stroke="#e88cc0" stroke-width="1.2"/>
<rect x="1080.0" y="514.8" width="12.5" height="1.5" fill="#222" opacity="0.5"/>
<rect x="1081.3" y="517.8" width="10.0" height="1.5" fill="#222" opacity="0.46"/>
<circle cx="910.0" cy="518.6" r="10.0" fill="url(#cgp)" stroke="#e88cc0" stroke-width="1.2"/>
<rect x="904.2" y="516.3" width="11.5" height="1.5" fill="#222" opacity="0.5"/>
<rect x="905.4" y="519.3" width="9.2" height="1.5" fill="#222" opacity="0.46"/>
<circle cx="954.3" cy="521.4" r="10.9" fill="url(#cgp)" stroke="#e88cc0" stroke-width="1.2"/>
<rect x="948.0" y="519.1" width="12.5" height="1.5" fill="#222" opacity="0.5"/>
<rect x="949.3" y="522.1" width="10.0" height="1.5" fill="#222" opacity="0.46"/>
<circle cx="990.0" cy="524.3" r="10.0" fill="url(#cgp)" stroke="#e88cc0" stroke-width="1.2"/>
<rect x="984.2" y="522.0" width="11.5" height="1.5" fill="#222" opacity="0.5"/>
<rect x="985.4" y="525.0" width="9.2" height="1.5" fill="#222" opacity="0.46"/>
<circle cx="1025.7" cy="527.1" r="10.9" fill="url(#cgp)" stroke="#e88cc0" stroke-width="1.2"/>
<rect x="1019.5" y="524.8" width="12.5" height="1.5" fill="#222" opacity="0.5"/>
<rect x="1020.7" y="527.8" width="10.0" height="1.5" fill="#222" opacity="0.46"/>
<text x="1128" y="533.5" font-family='"Liberation Sans", sans-serif' font-size="4.6" fill="#b9b9b9" textLength="31" lengthAdjust="spacingAndGlyphs">As of March 2009</text>
<rect x="1140" y="315" width="30" height="230" fill="url(#cfr)"/>
<rect x="845" y="520" width="325" height="22" fill="url(#cfb)"/>
<rect x="838" y="315" width="26" height="230" fill="url(#cfl)"/>
</g>
<g id="cycle">
<defs>
<filter id="sb" x="-20%" y="-50%" width="140%" height="200%"><feGaussianBlur stdDeviation="7"/></filter>
<linearGradient id="og" x1="0" y1="0" x2="0" y2="1"><stop offset="0" stop-color="#f6b21a"/><stop offset="0.55" stop-color="#f0a010"/><stop offset="1" stop-color="#c67a00"/></linearGradient>
<linearGradient id="rg" x1="0" y1="0" x2="0" y2="1"><stop offset="0" stop-color="#ff5a10"/><stop offset="0.7" stop-color="#f04a0c"/><stop offset="1" stop-color="#cf3c08"/></linearGradient>
<linearGradient id="gg" x1="0" y1="0" x2="1" y2="1"><stop offset="0" stop-color="#12b812"/><stop offset="0.6" stop-color="#18cc18"/><stop offset="1" stop-color="#0d9a0d"/></linearGradient>
</defs>
<rect x="343" y="500" width="320" height="130" fill="#ffffff"/>
<ellipse cx="520" cy="612" rx="135" ry="16" fill="#000" opacity="0.13" filter="url(#sb)"/>
<ellipse cx="610" cy="585" rx="50" ry="22" fill="#000" opacity="0.10" filter="url(#sb)"/>
<path d="M388.8 526 L397 520.5 C405 521 412 522.5 419 524 L408 539 L384 531 Z" fill="#14d2f6"/>
<path d="M408 539 L419 524 L426 526 L415 541.5 Z" fill="#0a78b4"/>
<path d="M415 541.5 L426 526 C440 528.5 455 530.5 467 532 L466 533.5 C452 534 440 537 428 542.5 Z" fill="#efe000"/>
<path d="M427 542 C440 537 452 534 466 533.5 L466 536.5 C452 538 440 541.5 430 546.5 Z" fill="#7c7408"/>
<path d="M366 548 C366 566 380 582 397 591 L412 586 C395 578 384 566 380 548 Z" fill="#19c4ee"/>
<path d="M386 585 L397 591 L412 586 L408 583 Z" fill="#0c9ac6"/>
<path d="M550 538 L582 524 L601 530 L612 541 L560 541.5 Z" fill="#e9d414"/>
<path d="M550 538 L560 541.5 L612 541 L610 539 Z" fill="#cbb60c"/>
<path d="M586.7 521.7 L626.7 508.3 L649 507.5 L647.5 537.5 L640 536 L603 525 Z" fill="#de22f2"/>
<path d="M603 525 L640 536 L647.5 537.5 L648 531 L610 521 Z" fill="#c414d8"/>
<path d="M393 587 L463 592.5 L452 597 C480 603 520 607 560 604 C590 602 612 599 626 597 C612 606 590 616 560 621 C525 626 470 624 430 608 L415 619 Z" fill="url(#og)"/>
<path d="M463 592.5 L452 597 L440 594.5 L448 591.5 Z" fill="#7a5206"/>
<path d="M430 608 L415 619 L412 614 L424 606 Z" fill="#8a5a04"/>
<path d="M378.3 524 L427.5 542.5 L405 545 C412 556 428 563 450 567.5 C480 573.5 520 574.5 554 572.3 L562.6 589.5 C530 594.5 480 594 440 587 C405 582 385 570 376 550 L354 555 L352.5 550 Z" fill="url(#rg)"/>
<path d="M352.5 550 L354 555 L376 550.5 L375 546.5 Z" fill="#c23606"/>
<path d="M405 544.6 L427.5 542.3 L428 545.8 L406.7 547.8 Z" fill="#a83204"/>
<path d="M586.7 523 C600 523 620 528 633 535 C643 541 649 548 649 556 C648 566 636 578 620 586 L633 594 L554 604 L575.8 568 L593 574 C606 569 617 562 619 552 C620 543 610 533 600 528 Z" fill="url(#gg)"/>
<path d="M649 556 C648 566 636 578 620 586 L624 588.5 C640 580 652 568 652 556 Z" fill="#0a7a0a"/>
<path d="M554 604 L633 594 L634 597 L556 607 Z" fill="#0b8a0b"/>
</g>
<g id="timeline">
<defs><filter id="tb" x="-5%" y="-20%" width="110%" height="140%"><feGaussianBlur stdDeviation="5"/></filter><filter id="ts" x="-10%" y="-10%" width="120%" height="130%"><feGaussianBlur stdDeviation="1.2"/></filter><linearGradient id="tbg" x1="0" y1="0" x2="0" y2="1"><stop offset="0" stop-color="#fdfdfd"/><stop offset="0.5" stop-color="#f8f8f8"/><stop offset="1" stop-color="#f0f0f0"/></linearGradient><linearGradient id="hg" x1="0.1" y1="0" x2="0.8" y2="1"><stop offset="0" stop-color="#c4c4c4"/><stop offset="0.55" stop-color="#ededed"/><stop offset="1" stop-color="#ffffff"/></linearGradient><linearGradient id="hx0" x1="0.15" y1="0" x2="0.85" y2="1"><stop offset="0" stop-color="#ffd23a"/><stop offset="0.45" stop-color="#f7bd00"/><stop offset="1" stop-color="#b98200"/></linearGradient><linearGradient id="hx1" x1="0.15" y1="0" x2="0.85" y2="1"><stop offset="0" stop-color="#ff9a2a"/><stop offset="0.45" stop-color="#f27c00"/><stop offset="1" stop-color="#a84a00"/></linearGradient><linearGradient id="hx2" x1="0.15" y1="0" x2="0.85" y2="1"><stop offset="0" stop-color="#ff4a3a"/><stop offset="0.45" stop-color="#ea1616"/><stop offset="1" stop-color="#960808"/></linearGradient><linearGradient id="hx3" x1="0.15" y1="0" x2="0.85" y2="1"><stop offset="0" stop-color="#ff3a6a"/><stop offset="0.45" stop-color="#ea0040"/><stop offset="1" stop-color="#96002a"/></linearGradient><linearGradient id="hx4" x1="0.15" y1="0" x2="0.85" y2="1"><stop offset="0" stop-color="#c83ab4"/><stop offset="0.45" stop-color="#a5168f"/><stop offset="1" stop-color="#5e0852"/></linearGradient><linearGradient id="hx5" x1="0.15" y1="0" x2="0.85" y2="1"><stop offset="0" stop-color="#4a94ff"/><stop offset="0.45" stop-color="#1f70e8"/><stop offset="1" stop-color="#0e3e98"/></linearGradient><linearGradient id="hx6" x1="0.15" y1="0" x2="0.85" y2="1"><stop offset="0" stop-color="#3cc8dc"/><stop offset="0.45" stop-color="#15a8bc"/><stop offset="1" stop-color="#086a7a"/></linearGradient><linearGradient id="hx7" x1="0.15" y1="0" x2="0.85" y2="1"><stop offset="0" stop-color="#c4e03c"/><stop offset="0.45" stop-color="#a8ca16"/><stop offset="1" stop-color="#6a860a"/></linearGradient></defs>
<rect x="214" y="640" width="592" height="72" fill="url(#tbg)" filter="url(#tb)"/>
<path d="M235 652 L222 664.3 L235 677.5" fill="none" stroke="#dcdcdc" stroke-width="2.2"/><path d="M235 652 L222 664.3 L235 677.5" fill="none" stroke="#ffffff" stroke-width="1.2"/>
<path d="M778 652 L791 664.3 L778 677.5" fill="none" stroke="#dcdcdc" stroke-width="2.2"/><path d="M778 652 L791 664.3 L778 677.5" fill="none" stroke="#ffffff" stroke-width="1.2"/>
<path d="M278.7 686.7 H286.7 L299.7 672 M299.7 672 L313.2 686.7 H320.7 M347.6 686.7 H355.6 L368.6 672 M368.6 672 L382.1 686.7 H389.6 M416.5 686.7 H424.5 L437.5 672 M437.5 672 L451.0 686.7 H458.5 M485.4 686.7 H493.4 L506.4 672 M506.4 672 L519.9 686.7 H527.4 M554.5 686.7 H562.5 L575.5 672 M575.5 672 L589.0 686.7 H596.5 M623.4 686.7 H631.4 L644.4 672 M644.4 672 L657.9 686.7 H665.4 M692.5 686.7 H700.5 L713.5 672 M713.5 672 L727.0 686.7 H734.5 M761.0 686.7 H769.0 L782.0 672" fill="none" stroke="#d2d2d2" stroke-width="2"/>
<path d="M278.7 686.7 H286.7 L299.7 672 M299.7 672 L313.2 686.7 H320.7 M347.6 686.7 H355.6 L368.6 672 M368.6 672 L382.1 686.7 H389.6 M416.5 686.7 H424.5 L437.5 672 M437.5 672 L451.0 686.7 H458.5 M485.4 686.7 H493.4 L506.4 672 M506.4 672 L519.9 686.7 H527.4 M554.5 686.7 H562.5 L575.5 672 M575.5 672 L589.0 686.7 H596.5 M623.4 686.7 H631.4 L644.4 672 M644.4 672 L657.9 686.7 H665.4 M692.5 686.7 H700.5 L713.5 672 M713.5 672 L727.0 686.7 H734.5 M761.0 686.7 H769.0 L782.0 672" fill="none" stroke="#ffffff" stroke-width="1.1"/>
<polygon points="231.0,664.3 247.0,646.6 283.7,646.6 299.7,664.3 283.7,682.0 247.0,682.0" fill="#000" opacity="0.18" transform="translate(1 2.2)" filter="url(#ts)"/>
<line x1="264.6" y1="629.5" x2="264.6" y2="647.1" stroke="#4a4a4a" stroke-width="1.1"/>
<circle cx="264.6" cy="626.3" r="1.6" fill="#ffe4d2" opacity="0.85"/>
<polygon points="231.0,664.3 247.0,646.6 283.7,646.6 299.7,664.3 283.7,682.0 247.0,682.0" fill="url(#hx0)"/>
<polygon points="239.7,664.3 251.0,651.2 280.3,651.2 292.3,664.3 280.3,678.0 251.0,678.0" fill="#b98200" opacity="0.55" transform="translate(1.6 1.4)"/>
<polygon points="239.7,664.3 251.0,651.2 280.3,651.2 292.3,664.3 280.3,678.0 251.0,678.0" fill="url(#hg)" stroke="#f4f6ff" stroke-width="0.9"/>
<text x="252.5" y="672.5" font-family='"DejaVu Sans", "Liberation Sans", sans-serif' font-size="12.5" font-weight="bold" fill="#4a2a8a" textLength="10.0" lengthAdjust="spacingAndGlyphs" >...</text>
<polygon points="299.9,664.3 315.9,646.6 352.6,646.6 368.6,664.3 352.6,682.0 315.9,682.0" fill="#000" opacity="0.18" transform="translate(1 2.2)" filter="url(#ts)"/>
<line x1="333.4" y1="629.5" x2="333.4" y2="647.1" stroke="#4a4a4a" stroke-width="1.1"/>
<circle cx="333.4" cy="626.3" r="1.6" fill="#ffe4d2" opacity="0.85"/>
<polygon points="299.9,664.3 315.9,646.6 352.6,646.6 368.6,664.3 352.6,682.0 315.9,682.0" fill="url(#hx1)"/>
<polygon points="308.6,664.3 319.9,651.2 349.2,651.2 361.2,664.3 349.2,678.0 319.9,678.0" fill="#a84a00" opacity="0.55" transform="translate(1.6 1.4)"/>
<polygon points="308.6,664.3 319.9,651.2 349.2,651.2 361.2,664.3 349.2,678.0 319.9,678.0" fill="url(#hg)" stroke="#f4f6ff" stroke-width="0.9"/>
<text x="317.1" y="673.3" font-family='"DejaVu Sans", "Liberation Sans", sans-serif' font-size="12.6" font-weight="bold" fill="#161a26" textLength="33.0" lengthAdjust="spacingAndGlyphs" >2016</text>
<polygon points="368.8,664.3 384.8,646.6 421.5,646.6 437.5,664.3 421.5,682.0 384.8,682.0" fill="#000" opacity="0.18" transform="translate(1 2.2)" filter="url(#ts)"/>
<line x1="402.4" y1="629.5" x2="402.4" y2="647.1" stroke="#4a4a4a" stroke-width="1.1"/>
<circle cx="402.4" cy="626.3" r="1.6" fill="#ffe4d2" opacity="0.85"/>
<polygon points="368.8,664.3 384.8,646.6 421.5,646.6 437.5,664.3 421.5,682.0 384.8,682.0" fill="url(#hx2)"/>
<polygon points="377.5,664.3 388.8,651.2 418.1,651.2 430.1,664.3 418.1,678.0 388.8,678.0" fill="#960808" opacity="0.55" transform="translate(1.6 1.4)"/>
<polygon points="377.5,664.3 388.8,651.2 418.1,651.2 430.1,664.3 418.1,678.0 388.8,678.0" fill="url(#hg)" stroke="#f4f6ff" stroke-width="0.9"/>
<text x="386.0" y="673.3" font-family='"DejaVu Sans", "Liberation Sans", sans-serif' font-size="12.6" font-weight="bold" fill="#161a26" textLength="33.0" lengthAdjust="spacingAndGlyphs" >2017</text>
<polygon points="437.7,664.3 453.7,646.6 490.4,646.6 506.4,664.3 490.4,682.0 453.7,682.0" fill="#000" opacity="0.18" transform="translate(1 2.2)" filter="url(#ts)"/>
<line x1="471.2" y1="629.5" x2="471.2" y2="647.1" stroke="#4a4a4a" stroke-width="1.1"/>
<circle cx="471.2" cy="626.3" r="1.6" fill="#ffe4d2" opacity="0.85"/>
<polygon points="437.7,664.3 453.7,646.6 490.4,646.6 506.4,664.3 490.4,682.0 453.7,682.0" fill="url(#hx3)"/>
<polygon points="446.4,664.3 457.7,651.2 487.0,651.2 499.0,664.3 487.0,678.0 457.7,678.0" fill="#96002a" opacity="0.55" transform="translate(1.6 1.4)"/>
<polygon points="446.4,664.3 457.7,651.2 487.0,651.2 499.0,664.3 487.0,678.0 457.7,678.0" fill="url(#hg)" stroke="#f4f6ff" stroke-width="0.9"/>
<text x="454.9" y="673.3" font-family='"DejaVu Sans", "Liberation Sans", sans-serif' font-size="12.6" font-weight="bold" fill="#161a26" textLength="33.0" lengthAdjust="spacingAndGlyphs" >2018</text>
<polygon points="506.8,664.3 522.8,646.6 559.5,646.6 575.5,664.3 559.5,682.0 522.8,682.0" fill="#000" opacity="0.18" transform="translate(1 2.2)" filter="url(#ts)"/>
<line x1="540.4" y1="629.5" x2="540.4" y2="647.1" stroke="#4a4a4a" stroke-width="1.1"/>
<circle cx="540.4" cy="626.3" r="1.6" fill="#ffe4d2" opacity="0.85"/>
<polygon points="506.8,664.3 522.8,646.6 559.5,646.6 575.5,664.3 559.5,682.0 522.8,682.0" fill="url(#hx4)"/>
<polygon points="515.5,664.3 526.8,651.2 556.1,651.2 568.1,664.3 556.1,678.0 526.8,678.0" fill="#5e0852" opacity="0.55" transform="translate(1.6 1.4)"/>
<polygon points="515.5,664.3 526.8,651.2 556.1,651.2 568.1,664.3 556.1,678.0 526.8,678.0" fill="url(#hg)" stroke="#f4f6ff" stroke-width="0.9"/>
<text x="524.0" y="673.3" font-family='"DejaVu Sans", "Liberation Sans", sans-serif' font-size="12.6" font-weight="bold" fill="#161a26" textLength="33.0" lengthAdjust="spacingAndGlyphs" >2019</text>
<polygon points="575.7,664.3 591.7,646.6 628.4,646.6 644.4,664.3 628.4,682.0 591.7,682.0" fill="#000" opacity="0.18" transform="translate(1 2.2)" filter="url(#ts)"/>
<line x1="609.3" y1="629.5" x2="609.3" y2="647.1" stroke="#4a4a4a" stroke-width="1.1"/>
<circle cx="609.3" cy="626.3" r="1.6" fill="#ffe4d2" opacity="0.85"/>
<polygon points="575.7,664.3 591.7,646.6 628.4,646.6 644.4,664.3 628.4,682.0 591.7,682.0" fill="url(#hx5)"/>
<polygon points="584.4,664.3 595.7,651.2 625.0,651.2 637.0,664.3 625.0,678.0 595.7,678.0" fill="#0e3e98" opacity="0.55" transform="translate(1.6 1.4)"/>
<polygon points="584.4,664.3 595.7,651.2 625.0,651.2 637.0,664.3 625.0,678.0 595.7,678.0" fill="url(#hg)" stroke="#f4f6ff" stroke-width="0.9"/>
<text x="592.9" y="673.3" font-family='"DejaVu Sans", "Liberation Sans", sans-serif' font-size="12.6" font-weight="bold" fill="#161a26" textLength="33.0" lengthAdjust="spacingAndGlyphs" >2020</text>
<polygon points="644.8,664.3 660.8,646.6 697.5,646.6 713.5,664.3 697.5,682.0 660.8,682.0" fill="#000" opacity="0.18" transform="translate(1 2.2)" filter="url(#ts)"/>
<line x1="678.4" y1="629.5" x2="678.4" y2="647.1" stroke="#4a4a4a" stroke-width="1.1"/>
<circle cx="678.4" cy="626.3" r="1.6" fill="#ffe4d2" opacity="0.85"/>
<polygon points="644.8,664.3 660.8,646.6 697.5,646.6 713.5,664.3 697.5,682.0 660.8,682.0" fill="url(#hx6)"/>
<polygon points="653.5,664.3 664.8,651.2 694.1,651.2 706.1,664.3 694.1,678.0 664.8,678.0" fill="#086a7a" opacity="0.55" transform="translate(1.6 1.4)"/>
<polygon points="653.5,664.3 664.8,651.2 694.1,651.2 706.1,664.3 694.1,678.0 664.8,678.0" fill="url(#hg)" stroke="#f4f6ff" stroke-width="0.9"/>
<text x="662.0" y="673.3" font-family='"DejaVu Sans", "Liberation Sans", sans-serif' font-size="12.6" font-weight="bold" fill="#161a26" textLength="33.0" lengthAdjust="spacingAndGlyphs" >2021</text>
<polygon points="713.3,664.3 729.3,646.6 766.0,646.6 782.0,664.3 766.0,682.0 729.3,682.0" fill="#000" opacity="0.18" transform="translate(1 2.2)" filter="url(#ts)"/>
<line x1="746.9" y1="629.5" x2="746.9" y2="647.1" stroke="#4a4a4a" stroke-width="1.1"/>
<circle cx="746.9" cy="626.3" r="1.6" fill="#ffe4d2" opacity="0.85"/>
<polygon points="713.3,664.3 729.3,646.6 766.0,646.6 782.0,664.3 766.0,682.0 729.3,682.0" fill="url(#hx7)"/>
<polygon points="722.0,664.3 733.3,651.2 762.6,651.2 774.6,664.3 762.6,678.0 733.3,678.0" fill="#6a860a" opacity="0.55" transform="translate(1.6 1.4)"/>
<polygon points="722.0,664.3 733.3,651.2 762.6,651.2 774.6,664.3 762.6,678.0 733.3,678.0" fill="url(#hg)" stroke="#f4f6ff" stroke-width="0.9"/>
<text x="730.5" y="673.3" font-family='"DejaVu Sans", "Liberation Sans", sans-serif' font-size="12.6" font-weight="bold" fill="#161a26" textLength="33.0" lengthAdjust="spacingAndGlyphs" >202X</text>
</g>
<g id="knowledge">
<defs><clipPath id="ec"><ellipse cx="499.5" cy="436" rx="183.5" ry="97"/></clipPath><linearGradient id="kg" x1="0" y1="0" x2="0" y2="1"><stop offset="0" stop-color="#f0f0fa"/><stop offset="1" stop-color="#c6c6de"/></linearGradient></defs>
<ellipse cx="499.5" cy="436" rx="183.5" ry="97" fill="#ffffff"/>
<g clip-path="url(#ec)"><g filter="url(#soft)">
<g fill="none" stroke-linecap="round" opacity="0.62">
<line x1="446.0" y1="352.2" x2="405.8" y2="378.3" stroke="#c58fd6" stroke-width="1.3"/>
<line x1="489.5" y1="350.3" x2="405.8" y2="378.3" stroke="#c58fd6" stroke-width="1.3"/>
<line x1="489.5" y1="350.3" x2="532.5" y2="397.0" stroke="#c58fd6" stroke-width="1.3"/>
<line x1="489.5" y1="350.3" x2="501.2" y2="430.5" stroke="#c58fd6" stroke-width="1.3"/>
<line x1="489.5" y1="350.3" x2="598.3" y2="430.8" stroke="#c58fd6" stroke-width="1.3"/>
<line x1="527.0" y1="355.8" x2="598.3" y2="430.8" stroke="#c58fd6" stroke-width="1.3"/>
<line x1="542.7" y1="373.0" x2="598.3" y2="430.8" stroke="#c58fd6" stroke-width="1.3"/>
<line x1="542.7" y1="373.0" x2="598.3" y2="372.5" stroke="#c58fd6" stroke-width="1.3"/>
<line x1="405.8" y1="378.3" x2="465.0" y2="409.7" stroke="#c58fd6" stroke-width="1.3"/>
<line x1="405.8" y1="378.3" x2="515.0" y2="409.7" stroke="#c58fd6" stroke-width="1.3"/>
<line x1="405.8" y1="378.3" x2="500.0" y2="461.2" stroke="#c58fd6" stroke-width="1.3"/>
<line x1="405.8" y1="378.3" x2="426.7" y2="443.0" stroke="#c58fd6" stroke-width="1.3"/>
<line x1="400.7" y1="407.5" x2="465.0" y2="409.7" stroke="#c58fd6" stroke-width="1.3"/>
<line x1="465.0" y1="409.7" x2="515.0" y2="409.7" stroke="#c58fd6" stroke-width="1.3"/>
<line x1="515.0" y1="409.7" x2="598.3" y2="430.8" stroke="#c58fd6" stroke-width="1.3"/>
<line x1="400.7" y1="407.5" x2="395.3" y2="432.2" stroke="#c58fd6" stroke-width="1.3"/>
<line x1="400.7" y1="407.5" x2="478.7" y2="446.3" stroke="#c58fd6" stroke-width="1.3"/>
<line x1="501.2" y1="430.5" x2="598.3" y2="430.8" stroke="#c58fd6" stroke-width="1.3"/>
<line x1="501.2" y1="430.5" x2="426.7" y2="443.0" stroke="#c58fd6" stroke-width="1.3"/>
<line x1="552.5" y1="442.2" x2="598.3" y2="430.8" stroke="#c58fd6" stroke-width="1.3"/>
<line x1="567.8" y1="472.2" x2="598.3" y2="430.8" stroke="#c58fd6" stroke-width="1.3"/>
<line x1="500.0" y1="461.2" x2="501.2" y2="430.5" stroke="#c58fd6" stroke-width="1.3"/>
<line x1="426.7" y1="443.0" x2="528.7" y2="476.3" stroke="#c58fd6" stroke-width="1.3"/>
<line x1="478.7" y1="446.3" x2="500.0" y2="461.2" stroke="#c58fd6" stroke-width="1.3"/>
<line x1="496.3" y1="525.5" x2="479.2" y2="502.5" stroke="#c58fd6" stroke-width="1.3"/>
<line x1="528.7" y1="476.3" x2="598.3" y2="430.8" stroke="#c58fd6" stroke-width="1.3"/>
<line x1="532.5" y1="397.0" x2="598.3" y2="430.8" stroke="#c58fd6" stroke-width="1.3"/>
<line x1="601.7" y1="387.2" x2="598.3" y2="430.8" stroke="#c58fd6" stroke-width="1.3"/>
<line x1="642.5" y1="388.8" x2="598.3" y2="430.8" stroke="#c58fd6" stroke-width="1.3"/>
<line x1="654.2" y1="405.5" x2="598.3" y2="430.8" stroke="#c58fd6" stroke-width="1.3"/>
<line x1="661.7" y1="423.0" x2="598.3" y2="430.8" stroke="#c58fd6" stroke-width="1.3"/>
<line x1="659.2" y1="432.2" x2="598.3" y2="430.8" stroke="#c58fd6" stroke-width="1.3"/>
<line x1="662.5" y1="441.2" x2="598.3" y2="430.8" stroke="#c58fd6" stroke-width="1.3"/>
<line x1="489.5" y1="350.3" x2="528.7" y2="476.3" stroke="#c58fd6" stroke-width="1.3"/>
<line x1="515.0" y1="409.7" x2="552.5" y2="442.2" stroke="#c58fd6" stroke-width="1.3"/>
<line x1="426.7" y1="443.0" x2="496.3" y2="525.5" stroke="#c58fd6" stroke-width="1.3"/>
<line x1="340.5" y1="407.2" x2="400.7" y2="407.5" stroke="#c58fd6" stroke-width="1.3"/>
<line x1="360.0" y1="447.0" x2="426.7" y2="443.0" stroke="#c58fd6" stroke-width="1.3"/>
<line x1="527.0" y1="355.8" x2="654.2" y2="405.5" stroke="#c58fd6" stroke-width="1.3"/>
<line x1="598.3" y1="430.8" x2="528.7" y2="476.3" stroke="#f2a86a" stroke-width="1.2" stroke-dasharray="4 1"/>
<line x1="598.3" y1="430.8" x2="479.2" y2="502.5" stroke="#f2a86a" stroke-width="1.2" stroke-dasharray="4 1"/>
<line x1="426.7" y1="443.0" x2="369.3" y2="481.2" stroke="#f2a86a" stroke-width="1.2" stroke-dasharray="4 1"/>
<line x1="426.7" y1="443.0" x2="360.0" y2="447.0" stroke="#f2a86a" stroke-width="1.2" stroke-dasharray="4 1"/>
<line x1="426.7" y1="443.0" x2="478.7" y2="446.3" stroke="#f2a86a" stroke-width="1.2" stroke-dasharray="4 1"/>
<line x1="400.7" y1="407.5" x2="528.7" y2="476.3" stroke="#f2a86a" stroke-width="1.2" stroke-dasharray="4 1"/>
<line x1="426.7" y1="443.0" x2="587.3" y2="509.2" stroke="#f2a86a" stroke-width="1.2" stroke-dasharray="4 1"/>
<line x1="501.2" y1="430.5" x2="478.7" y2="446.3" stroke="#f2a86a" stroke-width="1.2" stroke-dasharray="4 1"/>
<line x1="405.8" y1="378.3" x2="426.7" y2="443.0" stroke="#f2a86a" stroke-width="1.2" stroke-dasharray="4 1"/>
<line x1="405.8" y1="378.3" x2="528.7" y2="476.3" stroke="#f2a86a" stroke-width="1.2" stroke-dasharray="4 1"/>
<line x1="598.3" y1="430.8" x2="661.7" y2="423.0" stroke="#f6dd55" stroke-width="2.0"/>
<line x1="598.3" y1="430.8" x2="659.2" y2="432.2" stroke="#f6dd55" stroke-width="2.0"/>
<line x1="598.3" y1="430.8" x2="662.5" y2="441.2" stroke="#f6dd55" stroke-width="2.0"/>
<line x1="598.3" y1="430.8" x2="665.0" y2="450.3" stroke="#f6dd55" stroke-width="2.0"/>
<line x1="598.3" y1="430.8" x2="654.2" y2="458.8" stroke="#f6dd55" stroke-width="2.0"/>
<line x1="598.3" y1="430.8" x2="653.3" y2="472.5" stroke="#f6dd55" stroke-width="2.0"/>
<line x1="598.3" y1="430.8" x2="642.5" y2="388.8" stroke="#f6dd55" stroke-width="2.0"/>
<line x1="598.3" y1="430.8" x2="654.2" y2="405.5" stroke="#f6dd55" stroke-width="2.0"/>
<line x1="598.3" y1="430.8" x2="662.5" y2="441.2" stroke="#f2a86a" stroke-width="1.2"/>
<line x1="598.3" y1="430.8" x2="665.0" y2="450.3" stroke="#f2a86a" stroke-width="1.2"/>
<line x1="598.3" y1="430.8" x2="654.2" y2="458.8" stroke="#f2a86a" stroke-width="1.2"/>
<line x1="405.8" y1="378.3" x2="340.5" y2="407.2" stroke="#f6dd55" stroke-width="1.6"/>
<line x1="405.8" y1="378.3" x2="344.5" y2="422.2" stroke="#f6dd55" stroke-width="1.6"/>
<line x1="405.8" y1="378.3" x2="395.3" y2="432.2" stroke="#f6dd55" stroke-width="1.6"/>
<line x1="400.7" y1="407.5" x2="344.5" y2="422.2" stroke="#f6dd55" stroke-width="1.6"/>
<line x1="542.7" y1="373.0" x2="598.3" y2="430.8" stroke="#f6dd55" stroke-width="1.6"/>
<line x1="598.3" y1="372.5" x2="598.3" y2="430.8" stroke="#f6dd55" stroke-width="1.6"/>
<line x1="405.8" y1="378.3" x2="340.5" y2="407.2" stroke="#8fd08a" stroke-width="1.3"/>
<line x1="405.8" y1="378.3" x2="360.0" y2="447.0" stroke="#8fd08a" stroke-width="1.3"/>
<line x1="400.7" y1="407.5" x2="360.0" y2="447.0" stroke="#8fd08a" stroke-width="1.3"/>
<line x1="405.8" y1="378.3" x2="400.7" y2="407.5" stroke="#8fd08a" stroke-width="1.3"/>
</g><g fill="none" stroke-linecap="round" opacity="0.9">
<line x1="601.7" y1="391.7" x2="588.3" y2="503.3" stroke="#5aa04a" stroke-width="2.2"/>
<line x1="603.3" y1="383.3" x2="598.3" y2="426.7" stroke="#8fd08a" stroke-width="1.4" stroke-dasharray="3 2"/>
<line x1="383.3" y1="360.0" x2="400.0" y2="373.3" stroke="#3f63c4" stroke-width="1.6"/>
<line x1="430.0" y1="383.3" x2="590.0" y2="427.3" stroke="#3f63c4" stroke-width="1.5"/>
<line x1="598.3" y1="434.0" x2="635.0" y2="478.3" stroke="#3f63c4" stroke-width="2.3"/>
<path d="M635.0 478.3 l-4.6 -2.2 l2.9 -2.6 z" fill="#3f63c4" stroke="none"/>
<line x1="524.0" y1="430.7" x2="578.3" y2="430.7" stroke="#777" stroke-width="0.8" stroke-dasharray="3 2"/>
<line x1="436.7" y1="516.7" x2="466.7" y2="503.3" stroke="#b9d2ee" stroke-width="1"/>
</g>
<rect x="595.0" y="480.7" width="66.7" height="16.0" rx="2.5" fill="#4472c4"/>
<text x="625.0" y="487.3" font-family='"Liberation Sans", sans-serif' font-size="5.2" font-weight="bold" fill="#ffffff" textLength="25.0" lengthAdjust="spacingAndGlyphs" >Dbpedia</text>
<text x="600.0" y="494.0" font-family='"Liberation Sans", sans-serif' font-size="5.2" font-weight="normal" fill="#ffffff" textLength="58.3" lengthAdjust="spacingAndGlyphs" >Carmen_Mesquita_Rodrigues</text>
<g><rect x="426.7" y="349.3" width="40.0" height="7.7" rx="1" fill="#8888a8" opacity="0.35"/><rect x="426.0" y="348.3" width="40.0" height="7.7" rx="1" fill="url(#kg)" stroke="#a9a9c9" stroke-width="0.7"/>
<rect x="429.2" y="350.8" width="3.4" height="2.8" rx="0.6" fill="#f2b41c"/>
<rect x="434.5" y="351.4" width="26.0" height="1.5" fill="#55556f" opacity="0.75"/>
</g>
<g><rect x="475.7" y="347.7" width="29.0" height="7.3" rx="1" fill="#8888a8" opacity="0.35"/><rect x="475.0" y="346.7" width="29.0" height="7.3" rx="1" fill="url(#kg)" stroke="#a9a9c9" stroke-width="0.7"/>
<rect x="478.2" y="348.9" width="3.4" height="2.8" rx="0.6" fill="#f2b41c"/>
<rect x="483.5" y="349.5" width="15.0" height="1.5" fill="#55556f" opacity="0.75"/>
</g>
<g><rect x="511.4" y="352.7" width="32.7" height="8.3" rx="1" fill="#8888a8" opacity="0.35"/><rect x="510.7" y="351.7" width="32.7" height="8.3" rx="1" fill="url(#kg)" stroke="#a9a9c9" stroke-width="0.7"/>
<rect x="513.9" y="354.4" width="3.4" height="2.8" rx="0.6" fill="#f2b41c"/>
<rect x="519.2" y="355.0" width="18.7" height="1.5" fill="#55556f" opacity="0.75"/>
</g>
<g><rect x="526.7" y="370.3" width="33.3" height="7.3" rx="1" fill="#8888a8" opacity="0.35"/><rect x="526.0" y="369.3" width="33.3" height="7.3" rx="1" fill="url(#kg)" stroke="#a9a9c9" stroke-width="0.7"/>
<rect x="529.2" y="371.6" width="3.4" height="2.8" rx="0.6" fill="#7a1f86"/>
<rect x="534.5" y="372.2" width="19.3" height="1.5" fill="#55556f" opacity="0.75"/>
</g>
<g><rect x="572.4" y="367.7" width="53.3" height="11.7" rx="1" fill="#8888a8" opacity="0.35"/><rect x="571.7" y="366.7" width="53.3" height="11.7" rx="1" fill="url(#kg)" stroke="#a9a9c9" stroke-width="0.7"/>
<rect x="574.9" y="369.7" width="3.4" height="2.8" rx="0.6" fill="#7a1f86"/>
<rect x="580.2" y="370.3" width="39.3" height="1.5" fill="#55556f" opacity="0.75"/>
<rect x="586.3" y="374.3" width="24.0" height="1.5" fill="#55556f" opacity="0.7"/>
</g>
<g><rect x="582.4" y="384.3" width="40.0" height="7.7" rx="1" fill="#8888a8" opacity="0.35"/><rect x="581.7" y="383.3" width="40.0" height="7.7" rx="1" fill="url(#kg)" stroke="#a9a9c9" stroke-width="0.7"/>
<rect x="584.9" y="385.8" width="3.4" height="2.8" rx="0.6" fill="#7a1f86"/>
<rect x="590.2" y="386.4" width="26.0" height="1.5" fill="#55556f" opacity="0.75"/>
</g>
<g><rect x="630.7" y="386.0" width="25.0" height="7.7" rx="1" fill="#8888a8" opacity="0.35"/><rect x="630.0" y="385.0" width="25.0" height="7.7" rx="1" fill="url(#kg)" stroke="#a9a9c9" stroke-width="0.7"/>
<rect x="633.2" y="387.4" width="3.4" height="2.8" rx="0.6" fill="#f2b41c"/>
<rect x="638.5" y="388.0" width="11.0" height="1.5" fill="#55556f" opacity="0.75"/>
</g>
<g><rect x="380.7" y="373.7" width="51.7" height="11.3" rx="1" fill="#8888a8" opacity="0.35"/><rect x="380.0" y="372.7" width="51.7" height="11.3" rx="1" fill="url(#kg)" stroke="#a9a9c9" stroke-width="0.7"/>
<rect x="383.2" y="375.7" width="3.4" height="2.8" rx="0.6" fill="#7a1f86"/>
<rect x="388.5" y="376.3" width="37.7" height="1.5" fill="#55556f" opacity="0.75"/>
<rect x="394.2" y="380.3" width="23.2" height="1.5" fill="#55556f" opacity="0.7"/>
</g>
<g><rect x="514.0" y="394.3" width="38.3" height="7.3" rx="1" fill="#8888a8" opacity="0.35"/><rect x="513.3" y="393.3" width="38.3" height="7.3" rx="1" fill="url(#kg)" stroke="#a9a9c9" stroke-width="0.7"/>
<rect x="516.5" y="395.6" width="3.4" height="2.8" rx="0.6" fill="#7a1f86"/>
<rect x="521.8" y="396.2" width="24.3" height="1.5" fill="#55556f" opacity="0.75"/>
</g>
<g><rect x="639.0" y="402.7" width="31.7" height="7.7" rx="1" fill="#8888a8" opacity="0.35"/><rect x="638.3" y="401.7" width="31.7" height="7.7" rx="1" fill="url(#kg)" stroke="#a9a9c9" stroke-width="0.7"/>
<rect x="641.5" y="404.1" width="3.4" height="2.8" rx="0.6" fill="#7a1f86"/>
<rect x="646.8" y="404.7" width="17.7" height="1.5" fill="#55556f" opacity="0.75"/>
</g>
<g><rect x="325.7" y="404.3" width="31.0" height="7.7" rx="1" fill="#8888a8" opacity="0.35"/><rect x="325.0" y="403.3" width="31.0" height="7.7" rx="1" fill="url(#kg)" stroke="#a9a9c9" stroke-width="0.7"/>
<rect x="328.2" y="405.8" width="3.4" height="2.8" rx="0.6" fill="#7a1f86"/>
<rect x="333.5" y="406.4" width="17.0" height="1.5" fill="#55556f" opacity="0.75"/>
</g>
<g><rect x="378.0" y="402.7" width="46.7" height="11.7" rx="1" fill="#8888a8" opacity="0.35"/><rect x="377.3" y="401.7" width="46.7" height="11.7" rx="1" fill="url(#kg)" stroke="#8cc98c" stroke-width="0.7"/>
<rect x="380.5" y="404.7" width="3.4" height="2.8" rx="0.6" fill="#7a1f86"/>
<rect x="385.8" y="405.3" width="32.7" height="1.5" fill="#55556f" opacity="0.75"/>
<rect x="390.2" y="409.3" width="21.0" height="1.5" fill="#55556f" opacity="0.7"/>
</g>
<g><rect x="452.4" y="407.0" width="26.7" height="7.3" rx="1" fill="#8888a8" opacity="0.35"/><rect x="451.7" y="406.0" width="26.7" height="7.3" rx="1" fill="url(#kg)" stroke="#a9a9c9" stroke-width="0.7"/>
<rect x="454.9" y="408.3" width="3.4" height="2.8" rx="0.6" fill="#f2b41c"/>
<rect x="460.2" y="408.9" width="12.7" height="1.5" fill="#55556f" opacity="0.75"/>
</g>
<g><rect x="502.4" y="407.0" width="26.7" height="7.3" rx="1" fill="#8888a8" opacity="0.35"/><rect x="501.7" y="406.0" width="26.7" height="7.3" rx="1" fill="url(#kg)" stroke="#a9a9c9" stroke-width="0.7"/>
<rect x="504.9" y="408.3" width="3.4" height="2.8" rx="0.6" fill="#f2b41c"/>
<rect x="510.2" y="408.9" width="12.7" height="1.5" fill="#55556f" opacity="0.75"/>
</g>
<g><rect x="321.4" y="417.0" width="47.7" height="12.3" rx="1" fill="#8888a8" opacity="0.35"/><rect x="320.7" y="416.0" width="47.7" height="12.3" rx="1" fill="url(#kg)" stroke="#a9a9c9" stroke-width="0.7"/>
<rect x="323.9" y="419.0" width="3.4" height="2.8" rx="0.6" fill="#7a1f86"/>
<rect x="329.2" y="419.6" width="33.7" height="1.5" fill="#55556f" opacity="0.75"/>
<rect x="333.8" y="423.6" width="21.4" height="1.5" fill="#55556f" opacity="0.7"/>
</g>
<g><rect x="378.0" y="429.3" width="36.0" height="7.7" rx="1" fill="#8888a8" opacity="0.35"/><rect x="377.3" y="428.3" width="36.0" height="7.7" rx="1" fill="url(#kg)" stroke="#a9a9c9" stroke-width="0.7"/>
<rect x="380.5" y="430.8" width="3.4" height="2.8" rx="0.6" fill="#f2b41c"/>
<rect x="385.8" y="431.4" width="22.0" height="1.5" fill="#55556f" opacity="0.75"/>
</g>
<g><rect x="479.0" y="426.0" width="45.7" height="11.0" rx="1" fill="#8888a8" opacity="0.35"/><rect x="478.3" y="425.0" width="45.7" height="11.0" rx="1" fill="url(#kg)" stroke="#8cc98c" stroke-width="0.7"/>
<rect x="481.5" y="428.0" width="3.4" height="2.8" rx="0.6" fill="#7a1f86"/>
<rect x="486.8" y="428.6" width="31.7" height="1.5" fill="#55556f" opacity="0.75"/>
<rect x="490.9" y="432.6" width="20.5" height="1.5" fill="#55556f" opacity="0.7"/>
</g>
<g><rect x="579.0" y="427.7" width="40.0" height="8.3" rx="1" fill="#8888a8" opacity="0.35"/><rect x="578.3" y="426.7" width="40.0" height="8.3" rx="1" fill="url(#kg)" stroke="#8cc98c" stroke-width="0.7"/>
<rect x="581.5" y="429.4" width="3.4" height="2.8" rx="0.6" fill="#7a1f86"/>
<rect x="586.8" y="430.0" width="26.0" height="1.5" fill="#55556f" opacity="0.75"/>
</g>
<g><rect x="649.0" y="420.3" width="26.7" height="7.3" rx="1" fill="#8888a8" opacity="0.35"/><rect x="648.3" y="419.3" width="26.7" height="7.3" rx="1" fill="url(#kg)" stroke="#a9a9c9" stroke-width="0.7"/>
<rect x="651.5" y="421.6" width="3.4" height="2.8" rx="0.6" fill="#7a1f86"/>
<rect x="656.8" y="422.2" width="12.7" height="1.5" fill="#55556f" opacity="0.75"/>
</g>
<g><rect x="640.7" y="429.3" width="38.3" height="7.7" rx="1" fill="#8888a8" opacity="0.35"/><rect x="640.0" y="428.3" width="38.3" height="7.7" rx="1" fill="url(#kg)" stroke="#a9a9c9" stroke-width="0.7"/>
<rect x="643.2" y="430.8" width="3.4" height="2.8" rx="0.6" fill="#7a1f86"/>
<rect x="648.5" y="431.4" width="24.3" height="1.5" fill="#55556f" opacity="0.75"/>
</g>
<g><rect x="645.7" y="438.3" width="35.0" height="7.7" rx="1" fill="#8888a8" opacity="0.35"/><rect x="645.0" y="437.3" width="35.0" height="7.7" rx="1" fill="url(#kg)" stroke="#a9a9c9" stroke-width="0.7"/>
<rect x="648.2" y="439.8" width="3.4" height="2.8" rx="0.6" fill="#7a1f86"/>
<rect x="653.5" y="440.4" width="21.0" height="1.5" fill="#55556f" opacity="0.75"/>
</g>
<g><rect x="654.0" y="447.7" width="23.3" height="7.3" rx="1" fill="#8888a8" opacity="0.35"/><rect x="653.3" y="446.7" width="23.3" height="7.3" rx="1" fill="url(#kg)" stroke="#a9a9c9" stroke-width="0.7"/>
<rect x="656.5" y="448.9" width="3.4" height="2.8" rx="0.6" fill="#7a1f86"/>
<rect x="661.8" y="449.5" width="9.3" height="1.5" fill="#55556f" opacity="0.75"/>
</g>
<g><rect x="635.7" y="456.0" width="38.3" height="7.7" rx="1" fill="#8888a8" opacity="0.35"/><rect x="635.0" y="455.0" width="38.3" height="7.7" rx="1" fill="url(#kg)" stroke="#a9a9c9" stroke-width="0.7"/>
<rect x="638.2" y="457.4" width="3.4" height="2.8" rx="0.6" fill="#7a1f86"/>
<rect x="643.5" y="458.0" width="24.3" height="1.5" fill="#55556f" opacity="0.75"/>
</g>
<g><rect x="637.4" y="469.3" width="33.3" height="8.3" rx="1" fill="#8888a8" opacity="0.35"/><rect x="636.7" y="468.3" width="33.3" height="8.3" rx="1" fill="url(#kg)" stroke="#a9a9c9" stroke-width="0.7"/>
<rect x="639.9" y="471.1" width="3.4" height="2.8" rx="0.6" fill="#7a1f86"/>
<rect x="645.2" y="471.7" width="19.3" height="1.5" fill="#55556f" opacity="0.75"/>
</g>
<g><rect x="340.7" y="444.3" width="40.0" height="7.3" rx="1" fill="#8888a8" opacity="0.35"/><rect x="340.0" y="443.3" width="40.0" height="7.3" rx="1" fill="url(#kg)" stroke="#a9a9c9" stroke-width="0.7"/>
<rect x="343.2" y="445.6" width="3.4" height="2.8" rx="0.6" fill="#7a1f86"/>
<rect x="348.5" y="446.2" width="26.0" height="1.5" fill="#55556f" opacity="0.75"/>
</g>
<g><rect x="414.7" y="440.3" width="25.3" height="7.3" rx="1" fill="#8888a8" opacity="0.35"/><rect x="414.0" y="439.3" width="25.3" height="7.3" rx="1" fill="url(#kg)" stroke="#a9a9c9" stroke-width="0.7"/>
<rect x="417.2" y="441.6" width="3.4" height="2.8" rx="0.6" fill="#7a1f86"/>
<rect x="422.5" y="442.2" width="11.3" height="1.5" fill="#55556f" opacity="0.75"/>
</g>
<g><rect x="460.7" y="443.7" width="37.3" height="7.3" rx="1" fill="#8888a8" opacity="0.35"/><rect x="460.0" y="442.7" width="37.3" height="7.3" rx="1" fill="url(#kg)" stroke="#a9a9c9" stroke-width="0.7"/>
<rect x="463.2" y="444.9" width="3.4" height="2.8" rx="0.6" fill="#7a1f86"/>
<rect x="468.5" y="445.5" width="23.3" height="1.5" fill="#55556f" opacity="0.75"/>
</g>
<g><rect x="534.0" y="439.3" width="38.3" height="7.7" rx="1" fill="#8888a8" opacity="0.35"/><rect x="533.3" y="438.3" width="38.3" height="7.7" rx="1" fill="url(#kg)" stroke="#a9a9c9" stroke-width="0.7"/>
<rect x="536.5" y="440.8" width="3.4" height="2.8" rx="0.6" fill="#7a1f86"/>
<rect x="541.8" y="441.4" width="24.3" height="1.5" fill="#55556f" opacity="0.75"/>
</g>
<g><rect x="485.7" y="458.3" width="30.0" height="7.7" rx="1" fill="#8888a8" opacity="0.35"/><rect x="485.0" y="457.3" width="30.0" height="7.7" rx="1" fill="url(#kg)" stroke="#a9a9c9" stroke-width="0.7"/>
<rect x="488.2" y="459.8" width="3.4" height="2.8" rx="0.6" fill="#7a1f86"/>
<rect x="493.5" y="460.4" width="16.0" height="1.5" fill="#55556f" opacity="0.75"/>
</g>
<g><rect x="517.4" y="473.7" width="24.0" height="7.3" rx="1" fill="#8888a8" opacity="0.35"/><rect x="516.7" y="472.7" width="24.0" height="7.3" rx="1" fill="url(#kg)" stroke="#a9a9c9" stroke-width="0.7"/>
<rect x="519.9" y="474.9" width="3.4" height="2.8" rx="0.6" fill="#7a1f86"/>
<rect x="525.2" y="475.5" width="10.0" height="1.5" fill="#55556f" opacity="0.75"/>
</g>
<g><rect x="548.0" y="469.3" width="41.0" height="7.7" rx="1" fill="#8888a8" opacity="0.35"/><rect x="547.3" y="468.3" width="41.0" height="7.7" rx="1" fill="url(#kg)" stroke="#a9a9c9" stroke-width="0.7"/>
<rect x="550.5" y="470.8" width="3.4" height="2.8" rx="0.6" fill="#7a1f86"/>
<rect x="555.8" y="471.4" width="27.0" height="1.5" fill="#55556f" opacity="0.75"/>
</g>
<g><rect x="350.0" y="478.3" width="40.0" height="7.7" rx="1" fill="#8888a8" opacity="0.35"/><rect x="349.3" y="477.3" width="40.0" height="7.7" rx="1" fill="url(#kg)" stroke="#a9a9c9" stroke-width="0.7"/>
<rect x="352.5" y="479.8" width="3.4" height="2.8" rx="0.6" fill="#7a1f86"/>
<rect x="357.8" y="480.4" width="26.0" height="1.5" fill="#55556f" opacity="0.75"/>
</g>
<g><rect x="460.7" y="499.3" width="38.3" height="8.3" rx="1" fill="#8888a8" opacity="0.35"/><rect x="460.0" y="498.3" width="38.3" height="8.3" rx="1" fill="url(#kg)" stroke="#a9a9c9" stroke-width="0.7"/>
<rect x="463.2" y="501.1" width="3.4" height="2.8" rx="0.6" fill="#f2b41c"/>
<rect x="468.5" y="501.7" width="24.3" height="1.5" fill="#55556f" opacity="0.75"/>
</g>
<g><rect x="480.7" y="522.7" width="32.7" height="7.7" rx="1" fill="#8888a8" opacity="0.35"/><rect x="480.0" y="521.7" width="32.7" height="7.7" rx="1" fill="url(#kg)" stroke="#a9a9c9" stroke-width="0.7"/>
<rect x="483.2" y="524.1" width="3.4" height="2.8" rx="0.6" fill="#7a1f86"/>
<rect x="488.5" y="524.7" width="18.7" height="1.5" fill="#55556f" opacity="0.75"/>
</g>
<g><rect x="564.7" y="504.3" width="46.7" height="11.7" rx="1" fill="#8888a8" opacity="0.35"/><rect x="564.0" y="503.3" width="46.7" height="11.7" rx="1" fill="url(#kg)" stroke="#a9a9c9" stroke-width="0.7"/>
<rect x="567.2" y="506.3" width="3.4" height="2.8" rx="0.6" fill="#7a1f86"/>
<rect x="572.5" y="506.9" width="32.7" height="1.5" fill="#55556f" opacity="0.75"/>
<rect x="576.8" y="510.9" width="21.0" height="1.5" fill="#55556f" opacity="0.7"/>
</g>
<g opacity="0.45"><rect x="400.7" y="519.3" width="36.7" height="8.3" rx="1" fill="#8888a8" opacity="0.35"/><rect x="400.0" y="518.3" width="36.7" height="8.3" rx="1" fill="url(#kg)" stroke="#a9a9c9" stroke-width="0.7"/>
<rect x="403.2" y="521.1" width="3.4" height="2.8" rx="0.6" fill="#7a1f86"/>
<rect x="408.5" y="521.7" width="22.7" height="1.5" fill="#55556f" opacity="0.75"/>
</g>
</g></g>
<ellipse cx="499.5" cy="436" rx="183.5" ry="97" fill="none" stroke="#151515" stroke-width="2.1"/>
</g>
<g id="arrows">
<defs>
<linearGradient id="ag" x1="0" y1="0" x2="0" y2="1"><stop offset="0" stop-color="#f1f1f1"/><stop offset="0.5" stop-color="#dcdcdc"/><stop offset="1" stop-color="#b4b4b4"/></linearGradient>
<linearGradient id="agv" x1="0" y1="0" x2="0" y2="1"><stop offset="0" stop-color="#f4f4f4"/><stop offset="0.45" stop-color="#dedede"/><stop offset="1" stop-color="#a9a9a9"/></linearGradient>
</defs>
<clipPath id="acl1"><path d="M171.3 427.5 H261.3 V402.5 L317.5 452 L261.3 502.5 V477.5 H171.3 Z"/></clipPath><path d="M171.3 427.5 H261.3 V402.5 L317.5 452 L261.3 502.5 V477.5 H171.3 Z" fill="url(#ag)"/><path d="M171.3 427.5 H261.3 V402.5 L317.5 452 L261.3 502.5 V477.5 H171.3 Z" fill="none" stroke="#ffffff" stroke-opacity="0.85" stroke-width="4.4" clip-path="url(#acl1)"/><path d="M171.3 427.5 H261.3 V402.5 L317.5 452 L261.3 502.5 V477.5 H171.3 Z" fill="none" stroke="#2f2f2f" stroke-width="1.7" stroke-linejoin="miter"/>
<clipPath id="acl2"><path d="M697 425.8 H783 V399.7 L844 453 L783 506.7 V480 H697 Z"/></clipPath><path d="M697 425.8 H783 V399.7 L844 453 L783 506.7 V480 H697 Z" fill="url(#ag)"/><path d="M697 425.8 H783 V399.7 L844 453 L783 506.7 V480 H697 Z" fill="none" stroke="#ffffff" stroke-opacity="0.85" stroke-width="4.4" clip-path="url(#acl2)"/><path d="M697 425.8 H783 V399.7 L844 453 L783 506.7 V480 H697 Z" fill="none" stroke="#2f2f2f" stroke-width="1.7" stroke-linejoin="miter"/>
<clipPath id="acl3"><path d="M502.4 248.4 L599 290 H551.6 V333.6 H454 V290 H406 Z"/></clipPath><path d="M502.4 248.4 L599 290 H551.6 V333.6 H454 V290 H406 Z" fill="url(#agv)"/><path d="M502.4 248.4 L599 290 H551.6 V333.6 H454 V290 H406 Z" fill="none" stroke="#ffffff" stroke-opacity="0.85" stroke-width="4.4" clip-path="url(#acl3)"/><path d="M502.4 248.4 L599 290 H551.6 V333.6 H454 V290 H406 Z" fill="none" stroke="#2f2f2f" stroke-width="1.7" stroke-linejoin="miter"/>
<text x="197.5" y="457.5" font-family='"Liberation Sans", sans-serif' font-size="15.6" font-weight="normal" fill="#262626" textLength="63.5" lengthAdjust="spacingAndGlyphs" stroke="#262626" stroke-width="0.3">Discover</text>
<text x="728.3" y="457.5" font-family='"Liberation Sans", sans-serif' font-size="15.6" font-weight="normal" fill="#262626" textLength="51.7" lengthAdjust="spacingAndGlyphs" stroke="#262626" stroke-width="0.3">Link to</text>
<text x="470.4" y="307.0" font-family='"Liberation Sans", sans-serif' font-size="14.6" font-weight="normal" fill="#262626" textLength="64.6" lengthAdjust="spacingAndGlyphs" stroke="#262626" stroke-width="0.3">Populate</text>
</g>
<g transform="scale(1.126 1)" fill="none" stroke="#5a8414" stroke-dasharray="14.4 10.8 3.6 10.8">
<path d="M319.94 1.7 H1021.98 A91.7 91.7 0 0 1 1113.68 93.40" stroke-width="3.6" stroke-dashoffset="33.17"/>
<path d="M319.94 1.7 A91.7 91.7 0 0 0 228.24 93.40 V459.80" stroke-width="2.9" stroke-dashoffset="19.06"/>
<path d="M228.24 459.80 A91.7 91.7 0 0 0 319.94 551.5 H1021.98 A91.7 91.7 0 0 0 1113.68 459.80" stroke-width="3.1" stroke-dashoffset="0"/>
</g>
<text x="462.0" y="566.7" font-family='"DejaVu Sans", "Liberation Sans", sans-serif' font-size="22.9" font-weight="normal" fill="#0a0a0a" textLength="96.0" lengthAdjust="spacingAndGlyphs" >Update</text>
</svg>
</body></html>
